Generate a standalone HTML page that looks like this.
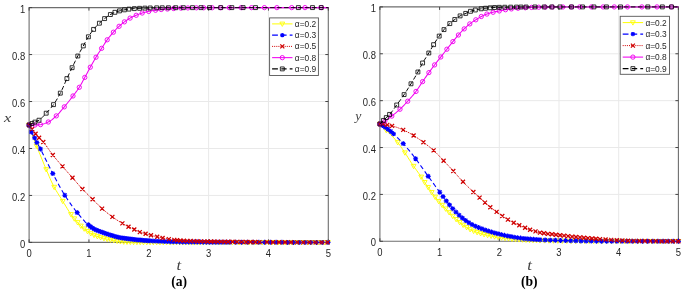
<!DOCTYPE html>
<html><head><meta charset="utf-8"><style>
html,body{margin:0;padding:0;background:#fff;}
body{width:685px;height:290px;overflow:hidden;}
svg{display:block;}
</style></head><body>
<div style="will-change:transform;width:685px;height:290px"><svg width="685" height="290" viewBox="0 0 685 290">
<rect width="685" height="290" fill="#fff"/>
<path d="M88.94 7.60V242.40M148.78 7.60V242.40M208.62 7.60V242.40M268.46 7.60V242.40M29.10 195.44H328.30M29.10 148.48H328.30M29.10 101.52H328.30M29.10 54.56H328.30" stroke="#e9e9e9" stroke-width="1" fill="none"/>
<path d="M29.10 7.60H328.30V242.40H29.10Z" stroke="#6e6e6e" stroke-width="1.1" fill="none"/>
<path d="M29.10 242.40v-3M29.10 7.60v3M88.94 242.40v-3M88.94 7.60v3M148.78 242.40v-3M148.78 7.60v3M208.62 242.40v-3M208.62 7.60v3M268.46 242.40v-3M268.46 7.60v3M328.30 242.40v-3M328.30 7.60v3M29.10 242.40h3M328.30 242.40h-3M29.10 195.44h3M328.30 195.44h-3M29.10 148.48h3M328.30 148.48h-3M29.10 101.52h3M328.30 101.52h-3M29.10 54.56h3M328.30 54.56h-3M29.10 7.60h3M328.30 7.60h-3" stroke="#444" stroke-width="1" fill="none"/>
<path d="M29.10 125.00 L30.10 128.35 L31.10 131.50 L32.10 134.38 L33.10 137.14 L34.10 139.81 L35.10 142.39 L36.10 144.91 L37.10 147.38 L38.10 149.81 L39.10 152.23 L40.10 154.64 L41.10 157.06 L42.10 159.51 L43.10 161.98 L44.10 164.43 L45.10 166.84 L46.10 169.20 L47.10 171.57 L48.10 173.93 L49.10 176.28 L50.10 178.59 L51.10 180.83 L52.10 182.98 L53.10 185.03 L54.10 186.94 L55.10 188.75 L56.10 190.48 L57.10 192.15 L58.10 193.76 L59.10 195.35 L60.10 196.91 L61.10 198.48 L62.10 200.07 L63.10 201.69 L64.10 203.34 L65.10 205.01 L66.10 206.68 L67.10 208.34 L68.10 209.97 L69.10 211.55 L70.10 213.08 L71.10 214.54 L72.10 215.92 L73.10 217.23 L74.10 218.46 L75.10 219.62 L76.10 220.74 L77.10 221.87 L78.10 222.99 L79.10 224.09 L80.10 225.14 L81.10 226.16 L82.10 227.10 L83.10 227.95 L84.10 228.73 L85.10 229.49 L86.10 230.26 L87.10 231.04 L88.10 231.79 L89.10 232.46 L90.10 233.08 L91.10 233.66 L92.10 234.20 L93.10 234.70 L94.10 235.17 L95.10 235.60 L96.10 236.01 L97.10 236.37 L98.10 236.69 L99.10 237.01 L100.10 237.31 L101.10 237.60 L102.10 237.88 L103.10 238.15 L104.10 238.41 L105.10 238.65 L106.10 238.89 L107.10 239.11 L108.10 239.32 L109.10 239.53 L110.10 239.72 L111.10 239.91 L112.10 240.10 L113.10 240.29 L114.10 240.48 L115.10 240.67 L116.10 240.85 L117.10 241.02 L118.10 241.19 L119.10 241.34 L120.10 241.48 L121.10 241.60 L122.10 241.71 L123.10 241.79 L124.10 241.86 L125.10 241.90 L126.10 241.94 L127.10 241.97 L128.10 242.00 L129.10 242.03 L130.10 242.06 L131.10 242.09 L132.10 242.11 L133.10 242.14 L134.10 242.16 L135.10 242.18 L136.10 242.20 L137.10 242.22 L138.10 242.24 L139.10 242.26 L140.10 242.27 L141.10 242.29 L142.10 242.30 L143.10 242.31 L144.10 242.32 L145.10 242.33 L146.10 242.34 L147.10 242.34 L148.10 242.35 L149.10 242.35 L150.10 242.35 L151.10 242.35 L152.10 242.35 L153.10 242.35 L154.10 242.35 L155.10 242.35 L156.10 242.35 L157.10 242.36 L158.10 242.36 L159.10 242.36 L160.10 242.36 L161.10 242.36 L162.10 242.36 L163.10 242.36 L164.10 242.36 L165.10 242.36 L166.10 242.36 L167.10 242.36 L168.10 242.36 L169.10 242.36 L170.10 242.36 L171.10 242.36 L172.10 242.36 L173.10 242.37 L174.10 242.37 L175.10 242.37 L176.10 242.37 L177.10 242.37 L178.10 242.37 L179.10 242.37 L180.10 242.37 L181.10 242.37 L182.10 242.37 L183.10 242.37 L184.10 242.37 L185.10 242.37 L186.10 242.37 L187.10 242.37 L188.10 242.37 L189.10 242.37 L190.10 242.37 L191.10 242.37 L192.10 242.37 L193.10 242.38 L194.10 242.38 L195.10 242.38 L196.10 242.38 L197.10 242.38 L198.10 242.38 L199.10 242.38 L200.10 242.38 L201.10 242.38 L202.10 242.38 L203.10 242.38 L204.10 242.38 L205.10 242.38 L206.10 242.38 L207.10 242.38 L208.10 242.38 L209.10 242.38 L210.10 242.38 L211.10 242.38 L212.10 242.38 L213.10 242.38 L214.10 242.38 L215.10 242.38 L216.10 242.38 L217.10 242.38 L218.10 242.39 L219.10 242.39 L220.10 242.39 L221.10 242.39 L222.10 242.39 L223.10 242.39 L224.10 242.39 L225.10 242.39 L226.10 242.39 L227.10 242.39 L228.10 242.39 L229.10 242.39 L230.10 242.39 L231.10 242.39 L232.10 242.39 L233.10 242.39 L234.10 242.39 L235.10 242.39 L236.10 242.39 L237.10 242.39 L238.10 242.39 L239.10 242.39 L240.10 242.39 L241.10 242.39 L242.10 242.39 L243.10 242.39 L244.10 242.39 L245.10 242.39 L246.10 242.39 L247.10 242.39 L248.10 242.39 L249.10 242.39 L250.10 242.39 L251.10 242.39 L252.10 242.39 L253.10 242.39 L254.10 242.39 L255.10 242.39 L256.10 242.39 L257.10 242.39 L258.10 242.40 L259.10 242.40 L260.10 242.40 L261.10 242.40 L262.10 242.40 L263.10 242.40 L264.10 242.40 L265.10 242.40 L266.10 242.40 L267.10 242.40 L268.10 242.40 L269.10 242.40 L270.10 242.40 L271.10 242.40 L272.10 242.40 L273.10 242.40 L274.10 242.40 L275.10 242.40 L276.10 242.40 L277.10 242.40 L278.10 242.40 L279.10 242.40 L280.10 242.40 L281.10 242.40 L282.10 242.40 L283.10 242.40 L284.10 242.40 L285.10 242.40 L286.10 242.40 L287.10 242.40 L288.10 242.40 L289.10 242.40 L290.10 242.40 L291.10 242.40 L292.10 242.40 L293.10 242.40 L294.10 242.40 L295.10 242.40 L296.10 242.40 L297.10 242.40 L298.10 242.40 L299.10 242.40 L300.10 242.40 L301.10 242.40 L302.10 242.40 L303.10 242.40 L304.10 242.40 L305.10 242.40 L306.10 242.40 L307.10 242.40 L308.10 242.40 L309.10 242.40 L310.10 242.40 L311.10 242.40 L312.10 242.40 L313.10 242.40 L314.10 242.40 L315.10 242.40 L316.10 242.40 L317.10 242.40 L318.10 242.40 L319.10 242.40 L320.10 242.40 L321.10 242.40 L322.10 242.40 L323.10 242.40 L324.10 242.40 L325.10 242.40 L326.10 242.40 L327.10 242.40 L328.10 242.40 L328.30 242.40" stroke="#ffff00" stroke-width="1.0" fill="none"/>
<path d="M26.70 123.20L31.50 123.20L29.10 127.52ZM34.10 144.10L38.90 144.10L36.50 148.42ZM43.80 167.64L48.60 167.64L46.20 171.96ZM51.80 185.33L56.60 185.33L54.20 189.65ZM60.40 199.40L65.20 199.40L62.80 203.72ZM68.60 212.60L73.40 212.60L71.00 216.92ZM71.89 216.89L76.69 216.89L74.29 221.21ZM75.19 220.62L79.99 220.62L77.59 224.94ZM78.48 224.14L83.28 224.14L80.88 228.46ZM81.78 226.99L86.58 226.99L84.18 231.31ZM85.07 229.53L89.87 229.53L87.47 233.85ZM88.37 231.68L93.17 231.68L90.77 236.00ZM91.66 233.35L96.46 233.35L94.06 237.67ZM94.96 234.65L99.76 234.65L97.36 238.97ZM98.25 235.67L103.05 235.67L100.65 239.99ZM101.55 236.57L106.35 236.57L103.95 240.89ZM104.84 237.34L109.64 237.34L107.24 241.66ZM108.14 238.00L112.94 238.00L110.54 242.32ZM111.43 238.63L116.23 238.63L113.83 242.95ZM114.73 239.23L119.53 239.23L117.13 243.55ZM118.02 239.72L122.82 239.72L120.42 244.04ZM121.32 240.04L126.12 240.04L123.72 244.36ZM124.61 240.17L129.41 240.17L127.01 244.49ZM127.91 240.26L132.71 240.26L130.31 244.58ZM131.20 240.35L136.00 240.35L133.60 244.67ZM134.50 240.42L139.30 240.42L136.90 244.74ZM137.79 240.47L142.59 240.47L140.19 244.79ZM141.09 240.51L145.89 240.51L143.49 244.83ZM144.38 240.54L149.18 240.54L146.78 244.86ZM147.68 240.55L152.48 240.55L150.08 244.87ZM150.97 240.55L155.77 240.55L153.37 244.87ZM154.27 240.55L159.07 240.55L156.67 244.87ZM157.56 240.56L162.36 240.56L159.96 244.88ZM160.86 240.56L165.66 240.56L163.26 244.88ZM164.15 240.56L168.95 240.56L166.55 244.88ZM167.45 240.56L172.25 240.56L169.85 244.88ZM170.74 240.57L175.54 240.57L173.14 244.89ZM174.04 240.57L178.84 240.57L176.44 244.89ZM177.33 240.57L182.13 240.57L179.73 244.89ZM180.63 240.57L185.43 240.57L183.03 244.89ZM183.92 240.57L188.72 240.57L186.32 244.89ZM187.22 240.57L192.02 240.57L189.62 244.89ZM190.51 240.58L195.31 240.58L192.91 244.90ZM193.81 240.58L198.61 240.58L196.21 244.90ZM197.10 240.58L201.90 240.58L199.50 244.90ZM200.39 240.58L205.19 240.58L202.79 244.90ZM203.69 240.58L208.49 240.58L206.09 244.90ZM206.98 240.58L211.78 240.58L209.38 244.90ZM210.28 240.58L215.08 240.58L212.68 244.90ZM213.57 240.58L218.37 240.58L215.97 244.90ZM216.87 240.59L221.67 240.59L219.27 244.91ZM220.16 240.59L224.96 240.59L222.56 244.91ZM223.46 240.59L228.26 240.59L225.86 244.91ZM226.75 240.59L231.55 240.59L229.15 244.91ZM230.05 240.59L234.85 240.59L232.45 244.91ZM233.34 240.59L238.14 240.59L235.74 244.91ZM236.64 240.59L241.44 240.59L239.04 244.91ZM239.93 240.59L244.73 240.59L242.33 244.91ZM243.23 240.59L248.03 240.59L245.63 244.91ZM246.52 240.59L251.32 240.59L248.92 244.91ZM249.82 240.59L254.62 240.59L252.22 244.91ZM253.11 240.59L257.91 240.59L255.51 244.91ZM256.41 240.60L261.21 240.60L258.81 244.92ZM259.70 240.60L264.50 240.60L262.10 244.92ZM263.00 240.60L267.80 240.60L265.40 244.92ZM266.29 240.60L271.09 240.60L268.69 244.92ZM269.59 240.60L274.39 240.60L271.99 244.92ZM272.88 240.60L277.68 240.60L275.28 244.92ZM276.18 240.60L280.98 240.60L278.58 244.92ZM279.47 240.60L284.27 240.60L281.87 244.92ZM282.77 240.60L287.57 240.60L285.17 244.92ZM286.06 240.60L290.86 240.60L288.46 244.92ZM289.36 240.60L294.16 240.60L291.76 244.92ZM292.65 240.60L297.45 240.60L295.05 244.92ZM295.95 240.60L300.75 240.60L298.35 244.92ZM299.24 240.60L304.04 240.60L301.64 244.92ZM302.54 240.60L307.34 240.60L304.94 244.92ZM305.83 240.60L310.63 240.60L308.23 244.92ZM309.13 240.60L313.93 240.60L311.53 244.92ZM312.42 240.60L317.22 240.60L314.82 244.92ZM315.72 240.60L320.52 240.60L318.12 244.92ZM319.01 240.60L323.81 240.60L321.41 244.92ZM322.31 240.60L327.11 240.60L324.71 244.92ZM325.60 240.60L330.40 240.60L328.00 244.92Z" stroke="#ffff00" stroke-width="0.9" fill="none"/>
<path d="M29.10 125.00 L30.10 128.38 L31.10 131.27 L32.10 133.49 L33.10 135.27 L34.10 136.97 L35.10 138.90 L36.10 140.99 L37.10 142.98 L38.10 144.78 L39.10 146.50 L40.10 148.26 L41.10 150.15 L42.10 152.15 L43.10 154.20 L44.10 156.26 L45.10 158.30 L46.10 160.31 L47.10 162.33 L48.10 164.34 L49.10 166.35 L50.10 168.35 L51.10 170.32 L52.10 172.26 L53.10 174.17 L54.10 176.07 L55.10 177.96 L56.10 179.85 L57.10 181.73 L58.10 183.59 L59.10 185.42 L60.10 187.23 L61.10 189.01 L62.10 190.74 L63.10 192.44 L64.10 194.08 L65.10 195.67 L66.10 197.23 L67.10 198.75 L68.10 200.25 L69.10 201.72 L70.10 203.17 L71.10 204.58 L72.10 205.97 L73.10 207.32 L74.10 208.65 L75.10 209.96 L76.10 211.23 L77.10 212.48 L78.10 213.71 L79.10 214.93 L80.10 216.14 L81.10 217.33 L82.10 218.50 L83.10 219.63 L84.10 220.73 L85.10 221.79 L86.10 222.79 L87.10 223.74 L88.10 224.63 L89.10 225.46 L90.10 226.27 L91.10 227.03 L92.10 227.75 L93.10 228.41 L94.10 229.02 L95.10 229.55 L96.10 230.01 L97.10 230.43 L98.10 230.81 L99.10 231.17 L100.10 231.54 L101.10 231.91 L102.10 232.27 L103.10 232.63 L104.10 232.98 L105.10 233.32 L106.10 233.66 L107.10 233.99 L108.10 234.31 L109.10 234.63 L110.10 234.93 L111.10 235.23 L112.10 235.54 L113.10 235.84 L114.10 236.14 L115.10 236.43 L116.10 236.70 L117.10 236.96 L118.10 237.20 L119.10 237.42 L120.10 237.62 L121.10 237.80 L122.10 237.97 L123.10 238.13 L124.10 238.28 L125.10 238.43 L126.10 238.57 L127.10 238.70 L128.10 238.83 L129.10 238.96 L130.10 239.07 L131.10 239.19 L132.10 239.30 L133.10 239.41 L134.10 239.51 L135.10 239.61 L136.10 239.71 L137.10 239.81 L138.10 239.90 L139.10 239.99 L140.10 240.08 L141.10 240.17 L142.10 240.26 L143.10 240.34 L144.10 240.42 L145.10 240.49 L146.10 240.56 L147.10 240.63 L148.10 240.69 L149.10 240.75 L150.10 240.81 L151.10 240.86 L152.10 240.91 L153.10 240.96 L154.10 241.01 L155.10 241.06 L156.10 241.11 L157.10 241.16 L158.10 241.20 L159.10 241.25 L160.10 241.30 L161.10 241.34 L162.10 241.38 L163.10 241.42 L164.10 241.47 L165.10 241.50 L166.10 241.54 L167.10 241.58 L168.10 241.61 L169.10 241.65 L170.10 241.68 L171.10 241.71 L172.10 241.74 L173.10 241.77 L174.10 241.79 L175.10 241.81 L176.10 241.84 L177.10 241.86 L178.10 241.87 L179.10 241.89 L180.10 241.90 L181.10 241.91 L182.10 241.93 L183.10 241.94 L184.10 241.95 L185.10 241.96 L186.10 241.97 L187.10 241.98 L188.10 241.99 L189.10 242.00 L190.10 242.01 L191.10 242.02 L192.10 242.03 L193.10 242.04 L194.10 242.05 L195.10 242.06 L196.10 242.07 L197.10 242.08 L198.10 242.09 L199.10 242.10 L200.10 242.10 L201.10 242.11 L202.10 242.12 L203.10 242.13 L204.10 242.14 L205.10 242.14 L206.10 242.15 L207.10 242.16 L208.10 242.16 L209.10 242.17 L210.10 242.18 L211.10 242.18 L212.10 242.19 L213.10 242.20 L214.10 242.20 L215.10 242.21 L216.10 242.21 L217.10 242.22 L218.10 242.22 L219.10 242.23 L220.10 242.23 L221.10 242.24 L222.10 242.24 L223.10 242.25 L224.10 242.25 L225.10 242.26 L226.10 242.26 L227.10 242.26 L228.10 242.27 L229.10 242.27 L230.10 242.27 L231.10 242.28 L232.10 242.28 L233.10 242.28 L234.10 242.29 L235.10 242.29 L236.10 242.29 L237.10 242.29 L238.10 242.30 L239.10 242.30 L240.10 242.30 L241.10 242.30 L242.10 242.30 L243.10 242.31 L244.10 242.31 L245.10 242.31 L246.10 242.31 L247.10 242.31 L248.10 242.32 L249.10 242.32 L250.10 242.32 L251.10 242.32 L252.10 242.32 L253.10 242.33 L254.10 242.33 L255.10 242.33 L256.10 242.33 L257.10 242.33 L258.10 242.33 L259.10 242.34 L260.10 242.34 L261.10 242.34 L262.10 242.34 L263.10 242.34 L264.10 242.34 L265.10 242.35 L266.10 242.35 L267.10 242.35 L268.10 242.35 L269.10 242.35 L270.10 242.35 L271.10 242.35 L272.10 242.36 L273.10 242.36 L274.10 242.36 L275.10 242.36 L276.10 242.36 L277.10 242.36 L278.10 242.36 L279.10 242.37 L280.10 242.37 L281.10 242.37 L282.10 242.37 L283.10 242.37 L284.10 242.37 L285.10 242.37 L286.10 242.37 L287.10 242.38 L288.10 242.38 L289.10 242.38 L290.10 242.38 L291.10 242.38 L292.10 242.38 L293.10 242.38 L294.10 242.38 L295.10 242.38 L296.10 242.38 L297.10 242.39 L298.10 242.39 L299.10 242.39 L300.10 242.39 L301.10 242.39 L302.10 242.39 L303.10 242.39 L304.10 242.39 L305.10 242.39 L306.10 242.39 L307.10 242.39 L308.10 242.39 L309.10 242.39 L310.10 242.40 L311.10 242.40 L312.10 242.40 L313.10 242.40 L314.10 242.40 L315.10 242.40 L316.10 242.40 L317.10 242.40 L318.10 242.40 L319.10 242.40 L320.10 242.40 L321.10 242.40 L322.10 242.40 L323.10 242.40 L324.10 242.40 L325.10 242.40 L326.10 242.40 L327.10 242.40 L328.10 242.40 L328.30 242.40" stroke="#0000ff" stroke-width="1.1" stroke-dasharray="4.5 2.8" fill="none"/>
<path d="M26.60 125.00L31.60 125.00M29.10 122.50L29.10 127.50M27.30 123.20L30.90 126.80M27.30 126.80L30.90 123.20M28.90 132.00L33.90 132.00M31.40 129.50L31.40 134.50M29.60 130.20L33.20 133.80M29.60 133.80L33.20 130.20M32.10 137.90L37.10 137.90M34.60 135.40L34.60 140.40M32.80 136.10L36.40 139.70M32.80 139.70L36.40 136.10M34.40 142.60L39.40 142.60M36.90 140.10L36.90 145.10M35.10 140.80L38.70 144.40M35.10 144.40L38.70 140.80M38.00 149.00L43.00 149.00M40.50 146.50L40.50 151.50M38.70 147.20L42.30 150.80M38.70 150.80L42.30 147.20M50.30 173.60L55.30 173.60M52.80 171.10L52.80 176.10M51.00 171.80L54.60 175.40M51.00 175.40L54.60 171.80M62.30 195.20L67.30 195.20M64.80 192.70L64.80 197.70M63.00 193.40L66.60 197.00M63.00 197.00L66.60 193.40M74.70 212.60L79.70 212.60M77.20 210.10L77.20 215.10M75.40 210.80L79.00 214.40M75.40 214.40L79.00 210.80M85.80 224.80L90.80 224.80M88.30 222.30L88.30 227.30M86.50 223.00L90.10 226.60M86.50 226.60L90.10 223.00M87.79 226.42L92.79 226.42M90.29 223.92L90.29 228.92M88.49 224.62L92.09 228.22M88.49 228.22L92.09 224.62M89.78 227.87L94.78 227.87M92.28 225.37L92.28 230.37M90.48 226.07L94.08 229.67M90.48 229.67L94.08 226.07M91.77 229.11L96.77 229.11M94.27 226.61L94.27 231.61M92.47 227.31L96.07 230.91M92.47 230.91L96.07 227.31M93.76 230.08L98.76 230.08M96.26 227.58L96.26 232.58M94.46 228.28L98.06 231.88M94.46 231.88L98.06 228.28M95.75 230.86L100.75 230.86M98.25 228.36L98.25 233.36M96.45 229.06L100.05 232.66M96.45 232.66L100.05 229.06M97.74 231.59L102.74 231.59M100.24 229.09L100.24 234.09M98.44 229.79L102.04 233.39M98.44 233.39L102.04 229.79M99.73 232.32L104.73 232.32M102.23 229.82L102.23 234.82M100.43 230.52L104.03 234.12M100.43 234.12L104.03 230.52M101.72 233.02L106.72 233.02M104.22 230.52L104.22 235.52M102.42 231.22L106.02 234.82M102.42 234.82L106.02 231.22M103.71 233.70L108.71 233.70M106.21 231.20L106.21 236.20M104.41 231.90L108.01 235.50M104.41 235.50L108.01 231.90M105.70 234.34L110.70 234.34M108.20 231.84L108.20 236.84M106.40 232.54L110.00 236.14M106.40 236.14L110.00 232.54M107.69 234.96L112.69 234.96M110.19 232.46L110.19 237.46M108.39 233.16L111.99 236.76M108.39 236.76L111.99 233.16M109.68 235.56L114.68 235.56M112.18 233.06L112.18 238.06M110.38 233.76L113.98 237.36M110.38 237.36L113.98 233.76M111.67 236.16L116.67 236.16M114.17 233.66L114.17 238.66M112.37 234.36L115.97 237.96M112.37 237.96L115.97 234.36M113.66 236.72L118.66 236.72M116.16 234.22L116.16 239.22M114.36 234.92L117.96 238.52M114.36 238.52L117.96 234.92M115.65 237.22L120.65 237.22M118.15 234.72L118.15 239.72M116.35 235.42L119.95 239.02M116.35 239.02L119.95 235.42M117.65 237.63L122.65 237.63M120.15 235.13L120.15 240.13M118.35 235.83L121.95 239.43M118.35 239.43L121.95 235.83M119.64 237.97L124.64 237.97M122.14 235.47L122.14 240.47M120.34 236.17L123.94 239.77M120.34 239.77L123.94 236.17M121.63 238.28L126.63 238.28M124.13 235.78L124.13 240.78M122.33 236.48L125.93 240.08M122.33 240.08L125.93 236.48M123.62 238.57L128.62 238.57M126.12 236.07L126.12 241.07M124.32 236.77L127.92 240.37M124.32 240.37L127.92 236.77M125.61 238.83L130.61 238.83M128.11 236.33L128.11 241.33M126.31 237.03L129.91 240.63M126.31 240.63L129.91 237.03M127.60 239.07L132.60 239.07M130.10 236.57L130.10 241.57M128.30 237.27L131.90 240.87M128.30 240.87L131.90 237.27M129.59 239.30L134.59 239.30M132.09 236.80L132.09 241.80M130.29 237.50L133.89 241.10M130.29 241.10L133.89 237.50M131.58 239.51L136.58 239.51M134.08 237.01L134.08 242.01M132.28 237.71L135.88 241.31M132.28 241.31L135.88 237.71M133.57 239.71L138.57 239.71M136.07 237.21L136.07 242.21M134.27 237.91L137.87 241.51M134.27 241.51L137.87 237.91M135.56 239.90L140.56 239.90M138.06 237.40L138.06 242.40M136.26 238.10L139.86 241.70M136.26 241.70L139.86 238.10M137.55 240.08L142.55 240.08M140.05 237.58L140.05 242.58M138.25 238.28L141.85 241.88M138.25 241.88L141.85 238.28M139.54 240.25L144.54 240.25M142.04 237.75L142.04 242.75M140.24 238.45L143.84 242.05M140.24 242.05L143.84 238.45M141.53 240.41L146.53 240.41M144.03 237.91L144.03 242.91M142.23 238.61L145.83 242.21M142.23 242.21L145.83 238.61M143.52 240.56L148.52 240.56M146.02 238.06L146.02 243.06M144.22 238.76L147.82 242.36M144.22 242.36L147.82 238.76M145.51 240.69L150.51 240.69M148.01 238.19L148.01 243.19M146.21 238.89L149.81 242.49M146.21 242.49L149.81 238.89M147.50 240.80L152.50 240.80M150.00 238.30L150.00 243.30M148.20 239.00L151.80 242.60M148.20 242.60L151.80 239.00M150.46 240.95L155.46 240.95M152.96 238.45L152.96 243.45M151.16 239.15L154.76 242.75M151.16 242.75L154.76 239.15M153.43 241.10L158.43 241.10M155.93 238.60L155.93 243.60M154.13 239.30L157.73 242.90M154.13 242.90L157.73 239.30M156.39 241.24L161.39 241.24M158.89 238.74L158.89 243.74M157.09 239.44L160.69 243.04M157.09 243.04L160.69 239.44M159.35 241.37L164.35 241.37M161.85 238.87L161.85 243.87M160.05 239.57L163.65 243.17M160.05 243.17L163.65 239.57M162.31 241.49L167.31 241.49M164.81 238.99L164.81 243.99M163.01 239.69L166.61 243.29M163.01 243.29L166.61 239.69M165.28 241.60L170.28 241.60M167.78 239.10L167.78 244.10M165.98 239.80L169.58 243.40M165.98 243.40L169.58 239.80M168.24 241.70L173.24 241.70M170.74 239.20L170.74 244.20M168.94 239.90L172.54 243.50M168.94 243.50L172.54 239.90M171.20 241.78L176.20 241.78M173.70 239.28L173.70 244.28M171.90 239.98L175.50 243.58M171.90 243.58L175.50 239.98M174.17 241.85L179.17 241.85M176.67 239.35L176.67 244.35M174.87 240.05L178.47 243.65M174.87 243.65L178.47 240.05M177.13 241.90L182.13 241.90M179.63 239.40L179.63 244.40M177.83 240.10L181.43 243.70M177.83 243.70L181.43 240.10M180.09 241.93L185.09 241.93M182.59 239.43L182.59 244.43M180.79 240.13L184.39 243.73M180.79 243.73L184.39 240.13M183.06 241.96L188.06 241.96M185.56 239.46L185.56 244.46M183.76 240.16L187.36 243.76M183.76 243.76L187.36 240.16M186.02 242.00L191.02 242.00M188.52 239.50L188.52 244.50M186.72 240.20L190.32 243.80M186.72 243.80L190.32 240.20M188.98 242.03L193.98 242.03M191.48 239.53L191.48 244.53M189.68 240.23L193.28 243.83M189.68 243.83L193.28 240.23M191.94 242.05L196.94 242.05M194.44 239.55L194.44 244.55M192.64 240.25L196.24 243.85M192.64 243.85L196.24 240.25M194.91 242.08L199.91 242.08M197.41 239.58L197.41 244.58M195.61 240.28L199.21 243.88M195.61 243.88L199.21 240.28M197.87 242.11L202.87 242.11M200.37 239.61L200.37 244.61M198.57 240.31L202.17 243.91M198.57 243.91L202.17 240.31M200.83 242.13L205.83 242.13M203.33 239.63L203.33 244.63M201.53 240.33L205.13 243.93M201.53 243.93L205.13 240.33M203.80 242.15L208.80 242.15M206.30 239.65L206.30 244.65M204.50 240.35L208.10 243.95M204.50 243.95L208.10 240.35M206.76 242.17L211.76 242.17M209.26 239.67L209.26 244.67M207.46 240.37L211.06 243.97M207.46 243.97L211.06 240.37M209.72 242.19L214.72 242.19M212.22 239.69L212.22 244.69M210.42 240.39L214.02 243.99M210.42 243.99L214.02 240.39M212.69 242.21L217.69 242.21M215.19 239.71L215.19 244.71M213.39 240.41L216.99 244.01M213.39 244.01L216.99 240.41M215.65 242.22L220.65 242.22M218.15 239.72L218.15 244.72M216.35 240.42L219.95 244.02M216.35 244.02L219.95 240.42M218.61 242.24L223.61 242.24M221.11 239.74L221.11 244.74M219.31 240.44L222.91 244.04M219.31 244.04L222.91 240.44M221.57 242.25L226.57 242.25M224.07 239.75L224.07 244.75M222.27 240.45L225.87 244.05M222.27 244.05L225.87 240.45M224.54 242.26L229.54 242.26M227.04 239.76L227.04 244.76M225.24 240.46L228.84 244.06M225.24 244.06L228.84 240.46M227.50 242.27L232.50 242.27M230.00 239.77L230.00 244.77M228.20 240.47L231.80 244.07M228.20 244.07L231.80 240.47M233.26 242.29L238.26 242.29M235.76 239.79L235.76 244.79M233.96 240.49L237.56 244.09M233.96 244.09L237.56 240.49M239.03 242.30L244.03 242.30M241.53 239.80L241.53 244.80M239.73 240.50L243.33 244.10M239.73 244.10L243.33 240.50M244.79 242.31L249.79 242.31M247.29 239.81L247.29 244.81M245.49 240.51L249.09 244.11M245.49 244.11L249.09 240.51M250.56 242.33L255.56 242.33M253.06 239.83L253.06 244.83M251.26 240.53L254.86 244.13M251.26 244.13L254.86 240.53M256.32 242.34L261.32 242.34M258.82 239.84L258.82 244.84M257.02 240.54L260.62 244.14M257.02 244.14L260.62 240.54M262.09 242.34L267.09 242.34M264.59 239.84L264.59 244.84M262.79 240.54L266.39 244.14M262.79 244.14L266.39 240.54M267.85 242.35L272.85 242.35M270.35 239.85L270.35 244.85M268.55 240.55L272.15 244.15M268.55 244.15L272.15 240.55M273.62 242.36L278.62 242.36M276.12 239.86L276.12 244.86M274.32 240.56L277.92 244.16M274.32 244.16L277.92 240.56M279.38 242.37L284.38 242.37M281.88 239.87L281.88 244.87M280.08 240.57L283.68 244.17M280.08 244.17L283.68 240.57M285.15 242.38L290.15 242.38M287.65 239.88L287.65 244.88M285.85 240.58L289.45 244.18M285.85 244.18L289.45 240.58M290.91 242.38L295.91 242.38M293.41 239.88L293.41 244.88M291.61 240.58L295.21 244.18M291.61 244.18L295.21 240.58M296.68 242.39L301.68 242.39M299.18 239.89L299.18 244.89M297.38 240.59L300.98 244.19M297.38 244.19L300.98 240.59M302.44 242.39L307.44 242.39M304.94 239.89L304.94 244.89M303.14 240.59L306.74 244.19M303.14 244.19L306.74 240.59M308.21 242.40L313.21 242.40M310.71 239.90L310.71 244.90M308.91 240.60L312.51 244.20M308.91 244.20L312.51 240.60M313.97 242.40L318.97 242.40M316.47 239.90L316.47 244.90M314.67 240.60L318.27 244.20M314.67 244.20L318.27 240.60M319.74 242.40L324.74 242.40M322.24 239.90L322.24 244.90M320.44 240.60L324.04 244.20M320.44 244.20L324.04 240.60M325.50 242.40L330.50 242.40M328.00 239.90L328.00 244.90M326.20 240.60L329.80 244.20M326.20 244.20L329.80 240.60" stroke="#0000ff" stroke-width="1.15" fill="none"/>
<path d="M29.10 125.00 L30.10 126.25 L31.10 127.54 L32.10 128.87 L33.10 130.27 L34.10 131.74 L35.10 133.15 L36.10 134.41 L37.10 135.55 L38.10 136.64 L39.10 137.70 L40.10 138.73 L41.10 139.71 L42.10 140.71 L43.10 141.77 L44.10 142.95 L45.10 144.23 L46.10 145.59 L47.10 147.00 L48.10 148.44 L49.10 149.89 L50.10 151.33 L51.10 152.74 L52.10 154.09 L53.10 155.38 L54.10 156.62 L55.10 157.83 L56.10 159.02 L57.10 160.19 L58.10 161.35 L59.10 162.50 L60.10 163.64 L61.10 164.79 L62.10 165.94 L63.10 167.09 L64.10 168.24 L65.10 169.39 L66.10 170.53 L67.10 171.67 L68.10 172.81 L69.10 173.94 L70.10 175.08 L71.10 176.21 L72.10 177.35 L73.10 178.48 L74.10 179.63 L75.10 180.78 L76.10 181.93 L77.10 183.08 L78.10 184.23 L79.10 185.36 L80.10 186.49 L81.10 187.59 L82.10 188.68 L83.10 189.74 L84.10 190.79 L85.10 191.82 L86.10 192.84 L87.10 193.84 L88.10 194.84 L89.10 195.84 L90.10 196.82 L91.10 197.81 L92.10 198.80 L93.10 199.80 L94.10 200.80 L95.10 201.81 L96.10 202.82 L97.10 203.83 L98.10 204.82 L99.10 205.80 L100.10 206.76 L101.10 207.70 L102.10 208.60 L103.10 209.48 L104.10 210.34 L105.10 211.19 L106.10 212.02 L107.10 212.84 L108.10 213.64 L109.10 214.43 L110.10 215.20 L111.10 215.95 L112.10 216.68 L113.10 217.40 L114.10 218.10 L115.10 218.79 L116.10 219.46 L117.10 220.12 L118.10 220.77 L119.10 221.40 L120.10 222.02 L121.10 222.63 L122.10 223.22 L123.10 223.81 L124.10 224.37 L125.10 224.92 L126.10 225.45 L127.10 225.98 L128.10 226.50 L129.10 227.00 L130.10 227.50 L131.10 227.98 L132.10 228.46 L133.10 228.93 L134.10 229.40 L135.10 229.89 L136.10 230.40 L137.10 230.90 L138.10 231.39 L139.10 231.83 L140.10 232.21 L141.10 232.54 L142.10 232.84 L143.10 233.12 L144.10 233.39 L145.10 233.66 L146.10 233.94 L147.10 234.23 L148.10 234.51 L149.10 234.79 L150.10 235.06 L151.10 235.33 L152.10 235.58 L153.10 235.83 L154.10 236.07 L155.10 236.31 L156.10 236.54 L157.10 236.78 L158.10 237.01 L159.10 237.24 L160.10 237.47 L161.10 237.69 L162.10 237.90 L163.10 238.10 L164.10 238.29 L165.10 238.47 L166.10 238.65 L167.10 238.82 L168.10 238.99 L169.10 239.15 L170.10 239.31 L171.10 239.46 L172.10 239.61 L173.10 239.75 L174.10 239.88 L175.10 240.00 L176.10 240.12 L177.10 240.24 L178.10 240.34 L179.10 240.43 L180.10 240.51 L181.10 240.57 L182.10 240.63 L183.10 240.68 L184.10 240.74 L185.10 240.79 L186.10 240.83 L187.10 240.88 L188.10 240.92 L189.10 240.96 L190.10 241.00 L191.10 241.04 L192.10 241.08 L193.10 241.11 L194.10 241.14 L195.10 241.17 L196.10 241.20 L197.10 241.23 L198.10 241.25 L199.10 241.28 L200.10 241.30 L201.10 241.32 L202.10 241.35 L203.10 241.37 L204.10 241.39 L205.10 241.41 L206.10 241.43 L207.10 241.44 L208.10 241.46 L209.10 241.48 L210.10 241.49 L211.10 241.51 L212.10 241.52 L213.10 241.54 L214.10 241.55 L215.10 241.57 L216.10 241.58 L217.10 241.60 L218.10 241.61 L219.10 241.62 L220.10 241.64 L221.10 241.65 L222.10 241.66 L223.10 241.67 L224.10 241.69 L225.10 241.70 L226.10 241.71 L227.10 241.73 L228.10 241.74 L229.10 241.76 L230.10 241.77 L231.10 241.78 L232.10 241.80 L233.10 241.81 L234.10 241.82 L235.10 241.84 L236.10 241.85 L237.10 241.86 L238.10 241.87 L239.10 241.89 L240.10 241.90 L241.10 241.91 L242.10 241.92 L243.10 241.94 L244.10 241.95 L245.10 241.96 L246.10 241.97 L247.10 241.98 L248.10 241.99 L249.10 242.00 L250.10 242.02 L251.10 242.03 L252.10 242.04 L253.10 242.04 L254.10 242.05 L255.10 242.06 L256.10 242.07 L257.10 242.08 L258.10 242.09 L259.10 242.09 L260.10 242.10 L261.10 242.11 L262.10 242.11 L263.10 242.12 L264.10 242.13 L265.10 242.13 L266.10 242.14 L267.10 242.15 L268.10 242.15 L269.10 242.16 L270.10 242.17 L271.10 242.17 L272.10 242.18 L273.10 242.19 L274.10 242.19 L275.10 242.20 L276.10 242.20 L277.10 242.21 L278.10 242.22 L279.10 242.22 L280.10 242.23 L281.10 242.24 L282.10 242.24 L283.10 242.25 L284.10 242.25 L285.10 242.26 L286.10 242.26 L287.10 242.27 L288.10 242.28 L289.10 242.28 L290.10 242.29 L291.10 242.29 L292.10 242.30 L293.10 242.30 L294.10 242.31 L295.10 242.31 L296.10 242.32 L297.10 242.32 L298.10 242.33 L299.10 242.33 L300.10 242.33 L301.10 242.34 L302.10 242.34 L303.10 242.35 L304.10 242.35 L305.10 242.35 L306.10 242.36 L307.10 242.36 L308.10 242.36 L309.10 242.37 L310.10 242.37 L311.10 242.37 L312.10 242.38 L313.10 242.38 L314.10 242.38 L315.10 242.38 L316.10 242.39 L317.10 242.39 L318.10 242.39 L319.10 242.39 L320.10 242.39 L321.10 242.40 L322.10 242.40 L323.10 242.40 L324.10 242.40 L325.10 242.40 L326.10 242.40 L327.10 242.40 L328.10 242.40 L328.30 242.40" stroke="#d00000" stroke-width="1.0" stroke-dasharray="1.2 0.9" fill="none"/>
<path d="M27.10 123.00L31.10 127.00M27.10 127.00L31.10 123.00M30.20 127.00L34.20 131.00M30.20 131.00L34.20 127.00M33.60 131.80L37.60 135.80M33.60 135.80L37.60 131.80M37.10 135.70L41.10 139.70M37.10 139.70L41.10 135.70M41.30 140.00L45.30 144.00M41.30 144.00L45.30 140.00M50.80 153.00L54.80 157.00M50.80 157.00L54.80 153.00M60.50 164.40L64.50 168.40M60.50 168.40L64.50 164.40M70.50 175.80L74.50 179.80M70.50 179.80L74.50 175.80M80.40 187.00L84.40 191.00M80.40 191.00L84.40 187.00M90.60 197.30L94.60 201.30M90.60 201.30L94.60 197.30M100.10 206.60L104.10 210.60M100.10 210.60L104.10 206.60M110.40 214.90L114.40 218.90M110.40 218.90L114.40 214.90M120.40 221.40L124.40 225.40M120.40 225.40L124.40 221.40M126.50 224.70L130.50 228.70M126.50 228.70L130.50 224.70M132.30 227.50L136.30 231.50M132.30 231.50L136.30 227.50M137.80 230.10L141.80 234.10M137.80 234.10L141.80 230.10M143.60 231.80L147.60 235.80M143.60 235.80L147.60 231.80M149.00 233.30L153.00 237.30M149.00 237.30L153.00 233.30M155.20 234.80L159.20 238.80M155.20 238.80L159.20 234.80M160.60 236.00L164.60 240.00M160.60 240.00L164.60 236.00M166.80 237.10L170.80 241.10M166.80 241.10L170.80 237.10M172.30 237.90L176.30 241.90M172.30 241.90L176.30 237.90M175.00 238.23L179.00 242.23M175.00 242.23L179.00 238.23M178.40 238.53L182.40 242.53M178.40 242.53L182.40 238.53M181.80 238.72L185.80 242.72M181.80 242.72L185.80 238.72M185.20 238.88L189.20 242.88M185.20 242.88L189.20 238.88M188.60 239.02L192.60 243.02M188.60 243.02L192.60 239.02M192.00 239.14L196.00 243.14M192.00 243.14L196.00 239.14M195.40 239.24L199.40 243.24M195.40 243.24L199.40 239.24M198.80 239.32L202.80 243.32M198.80 243.32L202.80 239.32M202.20 239.39L206.20 243.39M202.20 243.39L206.20 239.39M205.60 239.45L209.60 243.45M205.60 243.45L209.60 239.45M209.00 239.51L213.00 243.51M209.00 243.51L213.00 239.51M212.40 239.56L216.40 243.56M212.40 243.56L216.40 239.56M215.80 239.60L219.80 243.60M215.80 243.60L219.80 239.60M219.20 239.65L223.20 243.65M219.20 243.65L223.20 239.65M222.60 239.69L226.60 243.69M222.60 243.69L226.60 239.69M226.00 239.74L230.00 243.74M226.00 243.74L230.00 239.74M230.50 239.80L234.50 243.80M230.50 243.80L234.50 239.80M235.00 239.86L239.00 243.86M235.00 243.86L239.00 239.86M239.50 239.92L243.50 243.92M239.50 243.92L243.50 239.92M244.00 239.97L248.00 243.97M244.00 243.97L248.00 239.97M248.50 240.02L252.50 244.02M248.50 244.02L252.50 240.02M253.00 240.06L257.00 244.06M253.00 244.06L257.00 240.06M257.50 240.10L261.50 244.10M257.50 244.10L261.50 240.10M264.90 240.15L268.90 244.15M264.90 244.15L268.90 240.15M270.97 240.19L274.97 244.19M270.97 244.19L274.97 240.19M277.04 240.22L281.04 244.22M277.04 244.22L281.04 240.22M283.11 240.26L287.11 244.26M283.11 244.26L287.11 240.26M289.18 240.29L293.18 244.29M289.18 244.29L293.18 240.29M295.25 240.32L299.25 244.32M295.25 244.32L299.25 240.32M301.32 240.35L305.32 244.35M301.32 244.35L305.32 240.35M307.39 240.37L311.39 244.37M307.39 244.37L311.39 240.37M313.46 240.39L317.46 244.39M313.46 244.39L317.46 240.39M319.53 240.40L323.53 244.40M319.53 244.40L323.53 240.40M325.60 240.40L329.60 244.40M325.60 244.40L329.60 240.40" stroke="#d00000" stroke-width="1.25" fill="none"/>
<path d="M29.10 125.00 L30.10 125.00 L31.10 125.00 L32.10 125.00 L33.10 125.00 L34.10 125.00 L35.10 125.00 L36.10 124.98 L37.10 124.93 L38.10 124.85 L39.10 124.75 L40.10 124.65 L41.10 124.52 L42.10 124.32 L43.10 124.06 L44.10 123.74 L45.10 123.38 L46.10 122.98 L47.10 122.55 L48.10 122.09 L49.10 121.59 L50.10 121.00 L51.10 120.31 L52.10 119.55 L53.10 118.74 L54.10 117.87 L55.10 116.98 L56.10 116.07 L57.10 115.13 L58.10 114.12 L59.10 113.03 L60.10 111.89 L61.10 110.71 L62.10 109.51 L63.10 108.30 L64.10 107.10 L65.10 105.91 L66.10 104.70 L67.10 103.48 L68.10 102.24 L69.10 100.99 L70.10 99.72 L71.10 98.44 L72.10 97.15 L73.10 95.84 L74.10 94.53 L75.10 93.23 L76.10 91.90 L77.10 90.54 L78.10 89.11 L79.10 87.61 L80.10 86.00 L81.10 84.26 L82.10 82.44 L83.10 80.57 L84.10 78.69 L85.10 76.85 L86.10 75.00 L87.10 73.13 L88.10 71.25 L89.10 69.39 L90.10 67.56 L91.10 65.76 L92.10 63.96 L93.10 62.19 L94.10 60.43 L95.10 58.71 L96.10 57.03 L97.10 55.40 L98.10 53.80 L99.10 52.23 L100.10 50.68 L101.10 49.13 L102.10 47.58 L103.10 46.00 L104.10 44.42 L105.10 42.86 L106.10 41.36 L107.10 39.94 L108.10 38.59 L109.10 37.30 L110.10 36.06 L111.10 34.85 L112.10 33.68 L113.10 32.54 L114.10 31.42 L115.10 30.33 L116.10 29.26 L117.10 28.23 L118.10 27.24 L119.10 26.30 L120.10 25.40 L121.10 24.52 L122.10 23.67 L123.10 22.86 L124.10 22.08 L125.10 21.34 L126.10 20.64 L127.10 19.95 L128.10 19.29 L129.10 18.67 L130.10 18.09 L131.10 17.55 L132.10 17.05 L133.10 16.59 L134.10 16.15 L135.10 15.73 L136.10 15.32 L137.10 14.92 L138.10 14.52 L139.10 14.12 L140.10 13.74 L141.10 13.38 L142.10 13.05 L143.10 12.76 L144.10 12.48 L145.10 12.23 L146.10 11.99 L147.10 11.76 L148.10 11.55 L149.10 11.34 L150.10 11.14 L151.10 10.95 L152.10 10.77 L153.10 10.60 L154.10 10.44 L155.10 10.29 L156.10 10.14 L157.10 10.00 L158.10 9.86 L159.10 9.73 L160.10 9.62 L161.10 9.51 L162.10 9.42 L163.10 9.33 L164.10 9.25 L165.10 9.18 L166.10 9.10 L167.10 9.02 L168.10 8.94 L169.10 8.86 L170.10 8.77 L171.10 8.69 L172.10 8.61 L173.10 8.53 L174.10 8.47 L175.10 8.40 L176.10 8.34 L177.10 8.27 L178.10 8.22 L179.10 8.17 L180.10 8.13 L181.10 8.09 L182.10 8.07 L183.10 8.04 L184.10 8.02 L185.10 8.00 L186.10 7.98 L187.10 7.96 L188.10 7.94 L189.10 7.92 L190.10 7.91 L191.10 7.89 L192.10 7.88 L193.10 7.87 L194.10 7.85 L195.10 7.84 L196.10 7.83 L197.10 7.82 L198.10 7.81 L199.10 7.81 L200.10 7.80 L201.10 7.79 L202.10 7.79 L203.10 7.78 L204.10 7.77 L205.10 7.77 L206.10 7.76 L207.10 7.76 L208.10 7.75 L209.10 7.75 L210.10 7.74 L211.10 7.74 L212.10 7.73 L213.10 7.73 L214.10 7.72 L215.10 7.72 L216.10 7.71 L217.10 7.71 L218.10 7.71 L219.10 7.70 L220.10 7.70 L221.10 7.69 L222.10 7.69 L223.10 7.69 L224.10 7.68 L225.10 7.68 L226.10 7.68 L227.10 7.67 L228.10 7.67 L229.10 7.67 L230.10 7.67 L231.10 7.66 L232.10 7.66 L233.10 7.66 L234.10 7.66 L235.10 7.66 L236.10 7.66 L237.10 7.65 L238.10 7.65 L239.10 7.65 L240.10 7.65 L241.10 7.65 L242.10 7.65 L243.10 7.65 L244.10 7.65 L245.10 7.64 L246.10 7.64 L247.10 7.64 L248.10 7.64 L249.10 7.64 L250.10 7.64 L251.10 7.64 L252.10 7.64 L253.10 7.64 L254.10 7.64 L255.10 7.63 L256.10 7.63 L257.10 7.63 L258.10 7.63 L259.10 7.63 L260.10 7.63 L261.10 7.63 L262.10 7.63 L263.10 7.63 L264.10 7.63 L265.10 7.63 L266.10 7.63 L267.10 7.62 L268.10 7.62 L269.10 7.62 L270.10 7.62 L271.10 7.62 L272.10 7.62 L273.10 7.62 L274.10 7.62 L275.10 7.62 L276.10 7.62 L277.10 7.62 L278.10 7.62 L279.10 7.62 L280.10 7.62 L281.10 7.61 L282.10 7.61 L283.10 7.61 L284.10 7.61 L285.10 7.61 L286.10 7.61 L287.10 7.61 L288.10 7.61 L289.10 7.61 L290.10 7.61 L291.10 7.61 L292.10 7.61 L293.10 7.61 L294.10 7.61 L295.10 7.61 L296.10 7.61 L297.10 7.61 L298.10 7.61 L299.10 7.61 L300.10 7.61 L301.10 7.61 L302.10 7.60 L303.10 7.60 L304.10 7.60 L305.10 7.60 L306.10 7.60 L307.10 7.60 L308.10 7.60 L309.10 7.60 L310.10 7.60 L311.10 7.60 L312.10 7.60 L313.10 7.60 L314.10 7.60 L315.10 7.60 L316.10 7.60 L317.10 7.60 L318.10 7.60 L319.10 7.60 L320.10 7.60 L321.10 7.60 L322.10 7.60 L323.10 7.60 L324.10 7.60 L325.10 7.60 L326.10 7.60 L327.10 7.60 L328.10 7.60 L328.30 7.60" stroke="#f000f0" stroke-width="1.05" fill="none"/>
<g stroke="#f000f0" stroke-width="0.95" fill="none"><circle cx="29.10" cy="125.00" r="2.15"/><circle cx="35.00" cy="125.00" r="2.15"/><circle cx="40.50" cy="124.60" r="2.15"/><circle cx="48.30" cy="122.00" r="2.15"/><circle cx="56.30" cy="115.88" r="2.15"/><circle cx="64.30" cy="106.86" r="2.15"/><circle cx="73.00" cy="95.97" r="2.15"/><circle cx="79.30" cy="87.30" r="2.15"/><circle cx="84.80" cy="77.40" r="2.15"/><circle cx="90.30" cy="67.20" r="2.15"/><circle cx="96.00" cy="57.20" r="2.15"/><circle cx="101.60" cy="48.36" r="2.15"/><circle cx="107.20" cy="39.80" r="2.15"/><circle cx="113.40" cy="32.20" r="2.15"/><circle cx="119.10" cy="26.30" r="2.15"/><circle cx="124.40" cy="21.86" r="2.15"/><circle cx="130.10" cy="18.09" r="2.15"/><circle cx="136.20" cy="15.28" r="2.15"/><circle cx="142.20" cy="13.02" r="2.15"/><circle cx="148.70" cy="11.42" r="2.15"/><circle cx="155.50" cy="10.23" r="2.15"/><circle cx="161.20" cy="9.50" r="2.15"/><circle cx="167.40" cy="9.00" r="2.15"/><circle cx="173.60" cy="8.50" r="2.15"/><circle cx="180.90" cy="8.10" r="2.15"/><circle cx="187.90" cy="7.94" r="2.15"/><circle cx="196.40" cy="7.83" r="2.15"/><circle cx="203.70" cy="7.78" r="2.15"/><circle cx="212.20" cy="7.73" r="2.15"/><circle cx="220.70" cy="7.70" r="2.15"/><circle cx="229.30" cy="7.67" r="2.15"/><circle cx="241.10" cy="7.65" r="2.15"/><circle cx="251.60" cy="7.64" r="2.15"/><circle cx="264.40" cy="7.63" r="2.15"/><circle cx="276.90" cy="7.62" r="2.15"/><circle cx="291.70" cy="7.61" r="2.15"/><circle cx="305.00" cy="7.60" r="2.15"/><circle cx="321.20" cy="7.60" r="2.15"/></g>
<path d="M29.10 125.00 L30.10 124.48 L31.10 123.97 L32.10 123.47 L33.10 122.97 L34.10 122.49 L35.10 122.01 L36.10 121.57 L37.10 121.15 L38.10 120.69 L39.10 120.14 L40.10 119.43 L41.10 118.57 L42.10 117.61 L43.10 116.56 L44.10 115.47 L45.10 114.37 L46.10 113.29 L47.10 112.23 L48.10 111.16 L49.10 110.06 L50.10 108.92 L51.10 107.74 L52.10 106.50 L53.10 105.19 L54.10 103.79 L55.10 102.29 L56.10 100.69 L57.10 99.01 L58.10 97.25 L59.10 95.42 L60.10 93.54 L61.10 91.60 L62.10 89.55 L63.10 87.34 L64.10 85.05 L65.10 82.72 L66.10 80.40 L67.10 78.15 L68.10 76.00 L69.10 73.90 L70.10 71.82 L71.10 69.76 L72.10 67.69 L73.10 65.61 L74.10 63.52 L75.10 61.44 L76.10 59.38 L77.10 57.37 L78.10 55.42 L79.10 53.53 L80.10 51.68 L81.10 49.87 L82.10 48.06 L83.10 46.26 L84.10 44.44 L85.10 42.59 L86.10 40.75 L87.10 38.97 L88.10 37.28 L89.10 35.70 L90.10 34.18 L91.10 32.72 L92.10 31.33 L93.10 30.02 L94.10 28.80 L95.10 27.64 L96.10 26.54 L97.10 25.49 L98.10 24.47 L99.10 23.49 L100.10 22.53 L101.10 21.60 L102.10 20.70 L103.10 19.83 L104.10 19.00 L105.10 18.21 L106.10 17.44 L107.10 16.70 L108.10 15.99 L109.10 15.33 L110.10 14.72 L111.10 14.15 L112.10 13.60 L113.10 13.10 L114.10 12.64 L115.10 12.25 L116.10 11.89 L117.10 11.57 L118.10 11.27 L119.10 11.00 L120.10 10.75 L121.10 10.52 L122.10 10.30 L123.10 10.10 L124.10 9.91 L125.10 9.73 L126.10 9.55 L127.10 9.38 L128.10 9.23 L129.10 9.11 L130.10 9.01 L131.10 8.91 L132.10 8.82 L133.10 8.73 L134.10 8.65 L135.10 8.57 L136.10 8.51 L137.10 8.44 L138.10 8.39 L139.10 8.34 L140.10 8.30 L141.10 8.26 L142.10 8.22 L143.10 8.18 L144.10 8.15 L145.10 8.11 L146.10 8.08 L147.10 8.05 L148.10 8.02 L149.10 7.99 L150.10 7.97 L151.10 7.94 L152.10 7.92 L153.10 7.90 L154.10 7.88 L155.10 7.86 L156.10 7.84 L157.10 7.83 L158.10 7.82 L159.10 7.81 L160.10 7.80 L161.10 7.79 L162.10 7.79 L163.10 7.78 L164.10 7.77 L165.10 7.77 L166.10 7.76 L167.10 7.75 L168.10 7.75 L169.10 7.74 L170.10 7.74 L171.10 7.73 L172.10 7.73 L173.10 7.72 L174.10 7.72 L175.10 7.71 L176.10 7.71 L177.10 7.70 L178.10 7.70 L179.10 7.70 L180.10 7.69 L181.10 7.69 L182.10 7.69 L183.10 7.68 L184.10 7.68 L185.10 7.68 L186.10 7.67 L187.10 7.67 L188.10 7.67 L189.10 7.67 L190.10 7.66 L191.10 7.66 L192.10 7.66 L193.10 7.66 L194.10 7.66 L195.10 7.66 L196.10 7.65 L197.10 7.65 L198.10 7.65 L199.10 7.65 L200.10 7.65 L201.10 7.65 L202.10 7.65 L203.10 7.65 L204.10 7.65 L205.10 7.65 L206.10 7.65 L207.10 7.64 L208.10 7.64 L209.10 7.64 L210.10 7.64 L211.10 7.64 L212.10 7.64 L213.10 7.64 L214.10 7.64 L215.10 7.64 L216.10 7.64 L217.10 7.64 L218.10 7.64 L219.10 7.64 L220.10 7.63 L221.10 7.63 L222.10 7.63 L223.10 7.63 L224.10 7.63 L225.10 7.63 L226.10 7.63 L227.10 7.63 L228.10 7.63 L229.10 7.63 L230.10 7.63 L231.10 7.63 L232.10 7.63 L233.10 7.63 L234.10 7.63 L235.10 7.63 L236.10 7.63 L237.10 7.62 L238.10 7.62 L239.10 7.62 L240.10 7.62 L241.10 7.62 L242.10 7.62 L243.10 7.62 L244.10 7.62 L245.10 7.62 L246.10 7.62 L247.10 7.62 L248.10 7.62 L249.10 7.62 L250.10 7.62 L251.10 7.62 L252.10 7.62 L253.10 7.62 L254.10 7.62 L255.10 7.62 L256.10 7.62 L257.10 7.61 L258.10 7.61 L259.10 7.61 L260.10 7.61 L261.10 7.61 L262.10 7.61 L263.10 7.61 L264.10 7.61 L265.10 7.61 L266.10 7.61 L267.10 7.61 L268.10 7.61 L269.10 7.61 L270.10 7.61 L271.10 7.61 L272.10 7.61 L273.10 7.61 L274.10 7.61 L275.10 7.61 L276.10 7.61 L277.10 7.61 L278.10 7.61 L279.10 7.61 L280.10 7.61 L281.10 7.61 L282.10 7.61 L283.10 7.61 L284.10 7.61 L285.10 7.61 L286.10 7.61 L287.10 7.60 L288.10 7.60 L289.10 7.60 L290.10 7.60 L291.10 7.60 L292.10 7.60 L293.10 7.60 L294.10 7.60 L295.10 7.60 L296.10 7.60 L297.10 7.60 L298.10 7.60 L299.10 7.60 L300.10 7.60 L301.10 7.60 L302.10 7.60 L303.10 7.60 L304.10 7.60 L305.10 7.60 L306.10 7.60 L307.10 7.60 L308.10 7.60 L309.10 7.60 L310.10 7.60 L311.10 7.60 L312.10 7.60 L313.10 7.60 L314.10 7.60 L315.10 7.60 L316.10 7.60 L317.10 7.60 L318.10 7.60 L319.10 7.60 L320.10 7.60 L321.10 7.60 L322.10 7.60 L323.10 7.60 L324.10 7.60 L325.10 7.60 L326.10 7.60 L327.10 7.60 L328.10 7.60 L328.30 7.60" stroke="#000000" stroke-width="1.0" stroke-dasharray="4.5 2.5" fill="none"/>
<path d="M27.15 123.05h3.90v3.90h-3.90ZM30.05 121.57h3.90v3.90h-3.90ZM32.95 120.15h3.90v3.90h-3.90ZM37.05 118.25h3.90v3.90h-3.90ZM44.25 111.24h3.90v3.90h-3.90ZM51.55 102.69h3.90v3.90h-3.90ZM58.35 91.20h3.90v3.90h-3.90ZM64.95 76.64h3.90v3.90h-3.90ZM70.15 65.74h3.90v3.90h-3.90ZM75.85 54.05h3.90v3.90h-3.90ZM81.35 43.95h3.90v3.90h-3.90ZM86.45 34.85h3.90v3.90h-3.90ZM91.65 27.45h3.90v3.90h-3.90ZM97.45 21.25h3.90v3.90h-3.90ZM102.65 16.65h3.90v3.90h-3.90ZM108.45 12.60h3.90v3.90h-3.90ZM112.95 10.37h3.90v3.90h-3.90ZM117.55 8.95h3.90v3.90h-3.90ZM122.45 7.90h3.90v3.90h-3.90ZM127.05 7.17h3.90v3.90h-3.90ZM132.35 6.68h3.90v3.90h-3.90ZM137.65 6.37h3.90v3.90h-3.90ZM142.95 6.17h3.90v3.90h-3.90ZM148.25 6.01h3.90v3.90h-3.90ZM154.75 5.88h3.90v3.90h-3.90ZM160.25 5.83h3.90v3.90h-3.90ZM166.45 5.80h3.90v3.90h-3.90ZM173.75 5.76h3.90v3.90h-3.90ZM181.35 5.73h3.90v3.90h-3.90ZM190.55 5.71h3.90v3.90h-3.90ZM199.05 5.70h3.90v3.90h-3.90ZM207.65 5.69h3.90v3.90h-3.90ZM218.75 5.68h3.90v3.90h-3.90ZM229.85 5.68h3.90v3.90h-3.90ZM241.15 5.67h3.90v3.90h-3.90ZM253.55 5.67h3.90v3.90h-3.90ZM296.45 5.65h3.90v3.90h-3.90ZM310.55 5.65h3.90v3.90h-3.90ZM319.25 5.65h3.90v3.90h-3.90Z" stroke="#000000" stroke-width="0.8" fill="none"/>
<g font-family="&quot;Liberation Sans&quot;, sans-serif" font-size="10.0" fill="#262626"><text transform="translate(29.10 257.00) scale(0.945 1)" text-anchor="middle">0</text><text transform="translate(88.94 257.00) scale(0.945 1)" text-anchor="middle">1</text><text transform="translate(148.78 257.00) scale(0.945 1)" text-anchor="middle">2</text><text transform="translate(208.62 257.00) scale(0.945 1)" text-anchor="middle">3</text><text transform="translate(268.46 257.00) scale(0.945 1)" text-anchor="middle">4</text><text transform="translate(328.30 257.00) scale(0.945 1)" text-anchor="middle">5</text><text transform="translate(25.20 247.50) scale(0.945 1)" text-anchor="end">0</text><text transform="translate(25.20 200.54) scale(0.945 1)" text-anchor="end">0.2</text><text transform="translate(25.20 153.58) scale(0.945 1)" text-anchor="end">0.4</text><text transform="translate(25.20 106.62) scale(0.945 1)" text-anchor="end">0.6</text><text transform="translate(25.20 59.66) scale(0.945 1)" text-anchor="end">0.8</text><text transform="translate(25.20 12.70) scale(0.945 1)" text-anchor="end">1</text></g>
<path d="M439.60 6.90V241.30M499.30 6.90V241.30M559.00 6.90V241.30M618.70 6.90V241.30M379.90 194.42H678.40M379.90 147.54H678.40M379.90 100.66H678.40M379.90 53.78H678.40" stroke="#e9e9e9" stroke-width="1" fill="none"/>
<path d="M379.90 6.90H678.40V241.30H379.90Z" stroke="#6e6e6e" stroke-width="1.1" fill="none"/>
<path d="M379.90 241.30v-3M379.90 6.90v3M439.60 241.30v-3M439.60 6.90v3M499.30 241.30v-3M499.30 6.90v3M559.00 241.30v-3M559.00 6.90v3M618.70 241.30v-3M618.70 6.90v3M678.40 241.30v-3M678.40 6.90v3M379.90 241.30h3M678.40 241.30h-3M379.90 194.42h3M678.40 194.42h-3M379.90 147.54h3M678.40 147.54h-3M379.90 100.66h3M678.40 100.66h-3M379.90 53.78h3M678.40 53.78h-3M379.90 6.90h3M678.40 6.90h-3" stroke="#444" stroke-width="1" fill="none"/>
<path d="M379.90 124.00 L380.90 124.99 L381.90 125.98 L382.90 126.99 L383.90 128.00 L384.90 129.01 L385.90 130.01 L386.90 131.00 L387.90 131.98 L388.90 132.96 L389.90 133.95 L390.90 134.95 L391.90 135.96 L392.90 136.99 L393.90 138.05 L394.90 139.14 L395.90 140.27 L396.90 141.43 L397.90 142.65 L398.90 143.94 L399.90 145.30 L400.90 146.72 L401.90 148.19 L402.90 149.69 L403.90 151.19 L404.90 152.70 L405.90 154.23 L406.90 155.80 L407.90 157.41 L408.90 159.02 L409.90 160.62 L410.90 162.18 L411.90 163.70 L412.90 165.17 L413.90 166.60 L414.90 168.00 L415.90 169.39 L416.90 170.78 L417.90 172.16 L418.90 173.57 L419.90 174.99 L420.90 176.45 L421.90 177.97 L422.90 179.53 L423.90 181.09 L424.90 182.62 L425.90 184.14 L426.90 185.60 L427.90 186.96 L428.90 188.28 L429.90 189.64 L430.90 191.11 L431.90 192.59 L432.90 193.99 L433.90 195.33 L434.90 196.63 L435.90 197.90 L436.90 199.15 L437.90 200.36 L438.90 201.54 L439.90 202.67 L440.90 203.75 L441.90 204.81 L442.90 205.86 L443.90 206.92 L444.90 207.99 L445.90 209.06 L446.90 210.11 L447.90 211.16 L448.90 212.21 L449.90 213.26 L450.90 214.29 L451.90 215.31 L452.90 216.30 L453.90 217.26 L454.90 218.19 L455.90 219.10 L456.90 219.99 L457.90 220.87 L458.90 221.72 L459.90 222.55 L460.90 223.35 L461.90 224.12 L462.90 224.86 L463.90 225.56 L464.90 226.25 L465.90 226.93 L466.90 227.58 L467.90 228.20 L468.90 228.80 L469.90 229.35 L470.90 229.86 L471.90 230.33 L472.90 230.77 L473.90 231.18 L474.90 231.57 L475.90 231.94 L476.90 232.30 L477.90 232.63 L478.90 232.95 L479.90 233.26 L480.90 233.56 L481.90 233.84 L482.90 234.11 L483.90 234.37 L484.90 234.62 L485.90 234.85 L486.90 235.08 L487.90 235.30 L488.90 235.51 L489.90 235.72 L490.90 235.92 L491.90 236.12 L492.90 236.32 L493.90 236.50 L494.90 236.69 L495.90 236.86 L496.90 237.03 L497.90 237.19 L498.90 237.34 L499.90 237.49 L500.90 237.63 L501.90 237.76 L502.90 237.89 L503.90 238.02 L504.90 238.14 L505.90 238.26 L506.90 238.38 L507.90 238.50 L508.90 238.61 L509.90 238.72 L510.90 238.83 L511.90 238.93 L512.90 239.03 L513.90 239.12 L514.90 239.21 L515.90 239.30 L516.90 239.38 L517.90 239.46 L518.90 239.53 L519.90 239.59 L520.90 239.66 L521.90 239.72 L522.90 239.78 L523.90 239.83 L524.90 239.89 L525.90 239.94 L526.90 240.00 L527.90 240.05 L528.90 240.10 L529.90 240.14 L530.90 240.19 L531.90 240.23 L532.90 240.27 L533.90 240.31 L534.90 240.35 L535.90 240.38 L536.90 240.41 L537.90 240.44 L538.90 240.47 L539.90 240.50 L540.90 240.52 L541.90 240.54 L542.90 240.57 L543.90 240.59 L544.90 240.61 L545.90 240.63 L546.90 240.66 L547.90 240.68 L548.90 240.70 L549.90 240.72 L550.90 240.74 L551.90 240.76 L552.90 240.78 L553.90 240.80 L554.90 240.81 L555.90 240.83 L556.90 240.85 L557.90 240.87 L558.90 240.88 L559.90 240.90 L560.90 240.91 L561.90 240.93 L562.90 240.94 L563.90 240.96 L564.90 240.97 L565.90 240.98 L566.90 240.99 L567.90 241.01 L568.90 241.02 L569.90 241.03 L570.90 241.04 L571.90 241.05 L572.90 241.06 L573.90 241.06 L574.90 241.07 L575.90 241.08 L576.90 241.08 L577.90 241.09 L578.90 241.10 L579.90 241.10 L580.90 241.10 L581.90 241.11 L582.90 241.11 L583.90 241.12 L584.90 241.12 L585.90 241.12 L586.90 241.13 L587.90 241.13 L588.90 241.13 L589.90 241.14 L590.90 241.14 L591.90 241.14 L592.90 241.15 L593.90 241.15 L594.90 241.16 L595.90 241.16 L596.90 241.16 L597.90 241.17 L598.90 241.17 L599.90 241.17 L600.90 241.18 L601.90 241.18 L602.90 241.18 L603.90 241.18 L604.90 241.19 L605.90 241.19 L606.90 241.19 L607.90 241.20 L608.90 241.20 L609.90 241.20 L610.90 241.21 L611.90 241.21 L612.90 241.21 L613.90 241.21 L614.90 241.22 L615.90 241.22 L616.90 241.22 L617.90 241.22 L618.90 241.23 L619.90 241.23 L620.90 241.23 L621.90 241.23 L622.90 241.24 L623.90 241.24 L624.90 241.24 L625.90 241.24 L626.90 241.24 L627.90 241.25 L628.90 241.25 L629.90 241.25 L630.90 241.25 L631.90 241.25 L632.90 241.26 L633.90 241.26 L634.90 241.26 L635.90 241.26 L636.90 241.26 L637.90 241.27 L638.90 241.27 L639.90 241.27 L640.90 241.27 L641.90 241.27 L642.90 241.27 L643.90 241.27 L644.90 241.28 L645.90 241.28 L646.90 241.28 L647.90 241.28 L648.90 241.28 L649.90 241.28 L650.90 241.28 L651.90 241.29 L652.90 241.29 L653.90 241.29 L654.90 241.29 L655.90 241.29 L656.90 241.29 L657.90 241.29 L658.90 241.29 L659.90 241.29 L660.90 241.29 L661.90 241.29 L662.90 241.29 L663.90 241.30 L664.90 241.30 L665.90 241.30 L666.90 241.30 L667.90 241.30 L668.90 241.30 L669.90 241.30 L670.90 241.30 L671.90 241.30 L672.90 241.30 L673.90 241.30 L674.90 241.30 L675.90 241.30 L676.90 241.30 L677.90 241.30 L678.40 241.30" stroke="#ffff00" stroke-width="1.0" fill="none"/>
<path d="M377.50 122.20L382.30 122.20L379.90 126.52ZM383.90 128.60L388.70 128.60L386.30 132.92ZM395.30 140.60L400.10 140.60L397.70 144.92ZM402.50 150.90L407.30 150.90L404.90 155.22ZM411.20 164.37L416.00 164.37L413.60 168.69ZM418.80 175.10L423.60 175.10L421.20 179.42ZM422.29 180.51L427.09 180.51L424.69 184.83ZM425.79 185.54L430.59 185.54L428.19 189.86ZM429.28 190.47L434.08 190.47L431.68 194.79ZM432.78 195.18L437.58 195.18L435.18 199.50ZM436.27 199.47L441.07 199.47L438.67 203.79ZM439.76 203.29L444.56 203.29L442.16 207.61ZM443.26 207.01L448.06 207.01L445.66 211.33ZM446.75 210.68L451.55 210.68L449.15 215.00ZM450.25 214.25L455.05 214.25L452.65 218.57ZM453.74 217.51L458.54 217.51L456.14 221.83ZM457.24 220.54L462.04 220.54L459.64 224.86ZM460.73 223.22L465.53 223.22L463.13 227.54ZM464.22 225.60L469.02 225.60L466.62 229.92ZM467.72 227.66L472.52 227.66L470.12 231.98ZM471.21 229.26L476.01 229.26L473.61 233.58ZM474.71 230.57L479.51 230.57L477.11 234.89ZM478.20 231.67L483.00 231.67L480.60 235.99ZM481.69 232.62L486.49 232.62L484.09 236.94ZM485.19 233.43L489.99 233.43L487.59 237.75ZM488.68 234.16L493.48 234.16L491.08 238.48ZM492.18 234.83L496.98 234.83L494.58 239.15ZM495.67 235.42L500.47 235.42L498.07 239.74ZM499.16 235.91L503.96 235.91L501.56 240.23ZM502.66 236.36L507.46 236.36L505.06 240.68ZM506.15 236.77L510.95 236.77L508.55 241.09ZM509.65 237.15L514.45 237.15L512.05 241.47ZM513.14 237.47L517.94 237.47L515.54 241.79ZM516.64 237.74L521.44 237.74L519.04 242.06ZM520.13 237.95L524.93 237.95L522.53 242.27ZM523.62 238.15L528.42 238.15L526.02 242.47ZM527.12 238.33L531.92 238.33L529.52 242.65ZM530.61 238.48L535.41 238.48L533.01 242.80ZM534.11 238.60L538.91 238.60L536.51 242.92ZM537.60 238.70L542.40 238.70L540.00 243.02ZM542.06 238.80L546.86 238.80L544.46 243.12ZM546.53 238.90L551.33 238.90L548.93 243.22ZM550.99 238.99L555.79 238.99L553.39 243.31ZM555.46 239.06L560.26 239.06L557.86 243.38ZM559.92 239.13L564.72 239.13L562.32 243.45ZM564.39 239.19L569.19 239.19L566.79 243.51ZM568.85 239.24L573.65 239.24L571.25 243.56ZM573.32 239.28L578.12 239.28L575.72 243.60ZM577.78 239.30L582.58 239.30L580.18 243.62ZM582.25 239.32L587.05 239.32L584.65 243.64ZM586.71 239.33L591.51 239.33L589.11 243.65ZM591.17 239.35L595.97 239.35L593.57 243.67ZM595.64 239.37L600.44 239.37L598.04 243.69ZM600.10 239.38L604.90 239.38L602.50 243.70ZM604.57 239.39L609.37 239.39L606.97 243.71ZM609.03 239.41L613.83 239.41L611.43 243.73ZM613.50 239.42L618.30 239.42L615.90 243.74ZM617.96 239.43L622.76 239.43L620.36 243.75ZM622.43 239.44L627.23 239.44L624.83 243.76ZM626.89 239.45L631.69 239.45L629.29 243.77ZM631.35 239.46L636.15 239.46L633.75 243.78ZM635.82 239.47L640.62 239.47L638.22 243.79ZM640.28 239.47L645.08 239.47L642.68 243.79ZM644.75 239.48L649.55 239.48L647.15 243.80ZM649.21 239.48L654.01 239.48L651.61 243.80ZM653.68 239.49L658.48 239.49L656.08 243.81ZM658.14 239.49L662.94 239.49L660.54 243.81ZM662.61 239.50L667.41 239.50L665.01 243.82ZM667.07 239.50L671.87 239.50L669.47 243.82ZM671.54 239.50L676.34 239.50L673.94 243.82ZM676.00 239.50L680.80 239.50L678.40 243.82Z" stroke="#ffff00" stroke-width="0.9" fill="none"/>
<path d="M379.90 124.00 L380.90 124.54 L381.90 125.11 L382.90 125.71 L383.90 126.34 L384.90 127.00 L385.90 127.68 L386.90 128.40 L387.90 129.15 L388.90 129.94 L389.90 130.75 L390.90 131.58 L391.90 132.45 L392.90 133.33 L393.90 134.24 L394.90 135.17 L395.90 136.12 L396.90 137.09 L397.90 138.07 L398.90 139.08 L399.90 140.11 L400.90 141.15 L401.90 142.20 L402.90 143.28 L403.90 144.37 L404.90 145.48 L405.90 146.63 L406.90 147.80 L407.90 148.99 L408.90 150.20 L409.90 151.43 L410.90 152.68 L411.90 153.94 L412.90 155.21 L413.90 156.50 L414.90 157.79 L415.90 159.09 L416.90 160.42 L417.90 161.77 L418.90 163.15 L419.90 164.54 L420.90 165.95 L421.90 167.37 L422.90 168.80 L423.90 170.23 L424.90 171.65 L425.90 173.07 L426.90 174.49 L427.90 175.88 L428.90 177.27 L429.90 178.65 L430.90 180.03 L431.90 181.41 L432.90 182.78 L433.90 184.16 L434.90 185.53 L435.90 186.90 L436.90 188.26 L437.90 189.62 L438.90 190.98 L439.90 192.34 L440.90 193.70 L441.90 195.06 L442.90 196.43 L443.90 197.78 L444.90 199.11 L445.90 200.41 L446.90 201.68 L447.90 202.92 L448.90 204.15 L449.90 205.37 L450.90 206.56 L451.90 207.72 L452.90 208.85 L453.90 209.95 L454.90 211.00 L455.90 212.03 L456.90 213.03 L457.90 214.01 L458.90 214.97 L459.90 215.89 L460.90 216.78 L461.90 217.63 L462.90 218.44 L463.90 219.22 L464.90 219.97 L465.90 220.70 L466.90 221.40 L467.90 222.08 L468.90 222.73 L469.90 223.34 L470.90 223.92 L471.90 224.47 L472.90 224.99 L473.90 225.48 L474.90 225.96 L475.90 226.41 L476.90 226.85 L477.90 227.27 L478.90 227.68 L479.90 228.08 L480.90 228.47 L481.90 228.85 L482.90 229.21 L483.90 229.57 L484.90 229.92 L485.90 230.25 L486.90 230.58 L487.90 230.90 L488.90 231.21 L489.90 231.52 L490.90 231.83 L491.90 232.13 L492.90 232.43 L493.90 232.72 L494.90 233.00 L495.90 233.28 L496.90 233.55 L497.90 233.81 L498.90 234.06 L499.90 234.31 L500.90 234.55 L501.90 234.78 L502.90 235.00 L503.90 235.22 L504.90 235.43 L505.90 235.64 L506.90 235.84 L507.90 236.03 L508.90 236.22 L509.90 236.40 L510.90 236.58 L511.90 236.76 L512.90 236.93 L513.90 237.10 L514.90 237.27 L515.90 237.43 L516.90 237.59 L517.90 237.74 L518.90 237.89 L519.90 238.02 L520.90 238.14 L521.90 238.26 L522.90 238.36 L523.90 238.47 L524.90 238.58 L525.90 238.68 L526.90 238.77 L527.90 238.87 L528.90 238.96 L529.90 239.05 L530.90 239.13 L531.90 239.21 L532.90 239.29 L533.90 239.36 L534.90 239.43 L535.90 239.49 L536.90 239.55 L537.90 239.60 L538.90 239.65 L539.90 239.70 L540.90 239.75 L541.90 239.79 L542.90 239.84 L543.90 239.89 L544.90 239.93 L545.90 239.97 L546.90 240.01 L547.90 240.05 L548.90 240.09 L549.90 240.13 L550.90 240.17 L551.90 240.20 L552.90 240.24 L553.90 240.27 L554.90 240.31 L555.90 240.34 L556.90 240.37 L557.90 240.40 L558.90 240.43 L559.90 240.46 L560.90 240.48 L561.90 240.51 L562.90 240.54 L563.90 240.56 L564.90 240.59 L565.90 240.61 L566.90 240.63 L567.90 240.66 L568.90 240.68 L569.90 240.70 L570.90 240.72 L571.90 240.74 L572.90 240.76 L573.90 240.78 L574.90 240.80 L575.90 240.82 L576.90 240.84 L577.90 240.86 L578.90 240.88 L579.90 240.90 L580.90 240.91 L581.90 240.93 L582.90 240.95 L583.90 240.97 L584.90 240.98 L585.90 241.00 L586.90 241.02 L587.90 241.03 L588.90 241.05 L589.90 241.06 L590.90 241.08 L591.90 241.09 L592.90 241.10 L593.90 241.12 L594.90 241.13 L595.90 241.14 L596.90 241.15 L597.90 241.16 L598.90 241.17 L599.90 241.17 L600.90 241.18 L601.90 241.19 L602.90 241.19 L603.90 241.20 L604.90 241.20 L605.90 241.20 L606.90 241.21 L607.90 241.21 L608.90 241.21 L609.90 241.21 L610.90 241.22 L611.90 241.22 L612.90 241.22 L613.90 241.22 L614.90 241.23 L615.90 241.23 L616.90 241.23 L617.90 241.23 L618.90 241.23 L619.90 241.24 L620.90 241.24 L621.90 241.24 L622.90 241.24 L623.90 241.25 L624.90 241.25 L625.90 241.25 L626.90 241.25 L627.90 241.25 L628.90 241.25 L629.90 241.26 L630.90 241.26 L631.90 241.26 L632.90 241.26 L633.90 241.26 L634.90 241.27 L635.90 241.27 L636.90 241.27 L637.90 241.27 L638.90 241.27 L639.90 241.27 L640.90 241.27 L641.90 241.28 L642.90 241.28 L643.90 241.28 L644.90 241.28 L645.90 241.28 L646.90 241.28 L647.90 241.28 L648.90 241.28 L649.90 241.29 L650.90 241.29 L651.90 241.29 L652.90 241.29 L653.90 241.29 L654.90 241.29 L655.90 241.29 L656.90 241.29 L657.90 241.29 L658.90 241.29 L659.90 241.29 L660.90 241.29 L661.90 241.30 L662.90 241.30 L663.90 241.30 L664.90 241.30 L665.90 241.30 L666.90 241.30 L667.90 241.30 L668.90 241.30 L669.90 241.30 L670.90 241.30 L671.90 241.30 L672.90 241.30 L673.90 241.30 L674.90 241.30 L675.90 241.30 L676.90 241.30 L677.90 241.30 L678.40 241.30" stroke="#0000ff" stroke-width="1.1" stroke-dasharray="4.5 2.8" fill="none"/>
<path d="M377.40 124.00L382.40 124.00M379.90 121.50L379.90 126.50M378.10 122.20L381.70 125.80M378.10 125.80L381.70 122.20M380.10 125.53L385.10 125.53M382.60 123.03L382.60 128.03M380.80 123.73L384.40 127.33M380.80 127.33L384.40 123.73M382.70 127.20L387.70 127.20M385.20 124.70L385.20 129.70M383.40 125.40L387.00 129.00M383.40 129.00L387.00 125.40M385.50 129.23L390.50 129.23M388.00 126.73L388.00 131.73M386.20 127.43L389.80 131.03M386.20 131.03L389.80 127.43M388.30 131.50L393.30 131.50M390.80 129.00L390.80 134.00M389.00 129.70L392.60 133.30M389.00 133.30L392.60 129.70M391.00 133.87L396.00 133.87M393.50 131.37L393.50 136.37M391.70 132.07L395.30 135.67M391.70 135.67L395.30 132.07M400.70 143.60L405.70 143.60M403.20 141.10L403.20 146.10M401.40 141.80L405.00 145.40M401.40 145.40L405.00 141.80M413.10 158.70L418.10 158.70M415.60 156.20L415.60 161.20M413.80 156.90L417.40 160.50M413.80 160.50L417.40 156.90M425.70 176.30L430.70 176.30M428.20 173.80L428.20 178.80M426.40 174.50L430.00 178.10M426.40 178.10L430.00 174.50M437.30 192.20L442.30 192.20M439.80 189.70L439.80 194.70M438.00 190.40L441.60 194.00M438.00 194.00L441.60 190.40M440.53 196.61L445.53 196.61M443.03 194.11L443.03 199.11M441.23 194.81L444.83 198.41M441.23 198.41L444.83 194.81M443.76 200.88L448.76 200.88M446.26 198.38L446.26 203.38M444.46 199.08L448.06 202.68M444.46 202.68L448.06 199.08M447.00 204.88L452.00 204.88M449.50 202.38L449.50 207.38M447.70 203.08L451.30 206.68M447.70 206.68L451.30 203.08M450.23 208.66L455.23 208.66M452.73 206.16L452.73 211.16M450.93 206.86L454.53 210.46M450.93 210.46L454.53 206.86M453.46 212.09L458.46 212.09M455.96 209.59L455.96 214.59M454.16 210.29L457.76 213.89M454.16 213.89L457.76 210.29M456.69 215.24L461.69 215.24M459.19 212.74L459.19 217.74M457.39 213.44L460.99 217.04M457.39 217.04L460.99 213.44M459.93 218.06L464.93 218.06M462.43 215.56L462.43 220.56M460.63 216.26L464.23 219.86M460.63 219.86L464.23 216.26M463.16 220.53L468.16 220.53M465.66 218.03L465.66 223.03M463.86 218.73L467.46 222.33M463.86 222.33L467.46 218.73M466.39 222.72L471.39 222.72M468.89 220.22L468.89 225.22M467.09 220.92L470.69 224.52M467.09 224.52L470.69 220.92M469.62 224.59L474.62 224.59M472.12 222.09L472.12 227.09M470.32 222.79L473.92 226.39M470.32 226.39L473.92 222.79M472.85 226.16L477.85 226.16M475.35 223.66L475.35 228.66M473.55 224.36L477.15 227.96M473.55 227.96L477.15 224.36M476.09 227.55L481.09 227.55M478.59 225.05L478.59 230.05M476.79 225.75L480.39 229.35M476.79 229.35L480.39 225.75M479.32 228.82L484.32 228.82M481.82 226.32L481.82 231.32M480.02 227.02L483.62 230.62M480.02 230.62L483.62 227.02M482.55 229.97L487.55 229.97M485.05 227.47L485.05 232.47M483.25 228.17L486.85 231.77M483.25 231.77L486.85 228.17M485.78 231.02L490.78 231.02M488.28 228.52L488.28 233.52M486.48 229.22L490.08 232.82M486.48 232.82L490.08 229.22M489.02 232.02L494.02 232.02M491.52 229.52L491.52 234.52M489.72 230.22L493.32 233.82M489.72 233.82L493.32 230.22M492.25 232.96L497.25 232.96M494.75 230.46L494.75 235.46M492.95 231.16L496.55 234.76M492.95 234.76L496.55 231.16M495.48 233.83L500.48 233.83M497.98 231.33L497.98 236.33M496.18 232.03L499.78 235.63M496.18 235.63L499.78 232.03M498.71 234.62L503.71 234.62M501.21 232.12L501.21 237.12M499.41 232.82L503.01 236.42M499.41 236.42L503.01 232.82M501.95 235.34L506.95 235.34M504.45 232.84L504.45 237.84M502.65 233.54L506.25 237.14M502.65 237.14L506.25 233.54M505.18 235.99L510.18 235.99M507.68 233.49L507.68 238.49M505.88 234.19L509.48 237.79M505.88 237.79L509.48 234.19M508.41 236.58L513.41 236.58M510.91 234.08L510.91 239.08M509.11 234.78L512.71 238.38M509.11 238.38L512.71 234.78M511.64 237.14L516.64 237.14M514.14 234.64L514.14 239.64M512.34 235.34L515.94 238.94M512.34 238.94L515.94 235.34M514.87 237.66L519.87 237.66M517.37 235.16L517.37 240.16M515.57 235.86L519.17 239.46M515.57 239.46L519.17 235.86M518.11 238.11L523.11 238.11M520.61 235.61L520.61 240.61M518.81 236.31L522.41 239.91M518.81 239.91L522.41 236.31M521.34 238.47L526.34 238.47M523.84 235.97L523.84 240.97M522.04 236.67L525.64 240.27M522.04 240.27L525.64 236.67M524.57 238.79L529.57 238.79M527.07 236.29L527.07 241.29M525.27 236.99L528.87 240.59M525.27 240.59L528.87 236.99M527.80 239.08L532.80 239.08M530.30 236.58L530.30 241.58M528.50 237.28L532.10 240.88M528.50 240.88L532.10 237.28M531.04 239.33L536.04 239.33M533.54 236.83L533.54 241.83M531.74 237.53L535.34 241.13M531.74 241.13L535.34 237.53M534.27 239.54L539.27 239.54M536.77 237.04L536.77 242.04M534.97 237.74L538.57 241.34M534.97 241.34L538.57 237.74M537.50 239.70L542.50 239.70M540.00 237.20L540.00 242.20M538.20 237.90L541.80 241.50M538.20 241.50L541.80 237.90M542.63 239.94L547.63 239.94M545.13 237.44L545.13 242.44M543.33 238.14L546.93 241.74M543.33 241.74L546.93 238.14M547.75 240.14L552.75 240.14M550.25 237.64L550.25 242.64M548.45 238.34L552.05 241.94M548.45 241.94L552.05 238.34M552.88 240.32L557.88 240.32M555.38 237.82L555.38 242.82M553.58 238.52L557.18 242.12M553.58 242.12L557.18 238.52M558.00 240.47L563.00 240.47M560.50 237.97L560.50 242.97M558.70 238.67L562.30 242.27M558.70 242.27L562.30 238.67M563.13 240.60L568.13 240.60M565.63 238.10L565.63 243.10M563.83 238.80L567.43 242.40M563.83 242.40L567.43 238.80M568.26 240.72L573.26 240.72M570.76 238.22L570.76 243.22M568.96 238.92L572.56 242.52M568.96 242.52L572.56 238.92M573.38 240.82L578.38 240.82M575.88 238.32L575.88 243.32M574.08 239.02L577.68 242.62M574.08 242.62L577.68 239.02M578.51 240.92L583.51 240.92M581.01 238.42L581.01 243.42M579.21 239.12L582.81 242.72M579.21 242.72L582.81 239.12M583.63 241.00L588.63 241.00M586.13 238.50L586.13 243.50M584.33 239.20L587.93 242.80M584.33 242.80L587.93 239.20M588.76 241.08L593.76 241.08M591.26 238.58L591.26 243.58M589.46 239.28L593.06 242.88M589.46 242.88L593.06 239.28M593.89 241.14L598.89 241.14M596.39 238.64L596.39 243.64M594.59 239.34L598.19 242.94M594.59 242.94L598.19 239.34M599.01 241.18L604.01 241.18M601.51 238.68L601.51 243.68M599.71 239.38L603.31 242.98M599.71 242.98L603.31 239.38M604.14 241.20L609.14 241.20M606.64 238.70L606.64 243.70M604.84 239.40L608.44 243.00M604.84 243.00L608.44 239.40M609.26 241.22L614.26 241.22M611.76 238.72L611.76 243.72M609.96 239.42L613.56 243.02M609.96 243.02L613.56 239.42M614.39 241.23L619.39 241.23M616.89 238.73L616.89 243.73M615.09 239.43L618.69 243.03M615.09 243.03L618.69 239.43M619.51 241.24L624.51 241.24M622.01 238.74L622.01 243.74M620.21 239.44L623.81 243.04M620.21 243.04L623.81 239.44M624.64 241.25L629.64 241.25M627.14 238.75L627.14 243.75M625.34 239.45L628.94 243.05M625.34 243.05L628.94 239.45M629.77 241.26L634.77 241.26M632.27 238.76L632.27 243.76M630.47 239.46L634.07 243.06M630.47 243.06L634.07 239.46M634.89 241.27L639.89 241.27M637.39 238.77L637.39 243.77M635.59 239.47L639.19 243.07M635.59 243.07L639.19 239.47M640.02 241.28L645.02 241.28M642.52 238.78L642.52 243.78M640.72 239.48L644.32 243.08M640.72 243.08L644.32 239.48M645.14 241.28L650.14 241.28M647.64 238.78L647.64 243.78M645.84 239.48L649.44 243.08M645.84 243.08L649.44 239.48M650.27 241.29L655.27 241.29M652.77 238.79L652.77 243.79M650.97 239.49L654.57 243.09M650.97 243.09L654.57 239.49M655.40 241.29L660.40 241.29M657.90 238.79L657.90 243.79M656.10 239.49L659.70 243.09M656.10 243.09L659.70 239.49M660.52 241.30L665.52 241.30M663.02 238.80L663.02 243.80M661.22 239.50L664.82 243.10M661.22 243.10L664.82 239.50M665.65 241.30L670.65 241.30M668.15 238.80L668.15 243.80M666.35 239.50L669.95 243.10M666.35 243.10L669.95 239.50M670.77 241.30L675.77 241.30M673.27 238.80L673.27 243.80M671.47 239.50L675.07 243.10M671.47 243.10L675.07 239.50M675.90 241.30L680.90 241.30M678.40 238.80L678.40 243.80M676.60 239.50L680.20 243.10M676.60 243.10L680.20 239.50" stroke="#0000ff" stroke-width="1.15" fill="none"/>
<path d="M379.90 124.00 L380.90 124.01 L381.90 124.04 L382.90 124.08 L383.90 124.17 L384.90 124.35 L385.90 124.58 L386.90 124.81 L387.90 125.02 L388.90 125.21 L389.90 125.41 L390.90 125.62 L391.90 125.85 L392.90 126.11 L393.90 126.40 L394.90 126.71 L395.90 127.03 L396.90 127.38 L397.90 127.75 L398.90 128.13 L399.90 128.52 L400.90 128.93 L401.90 129.34 L402.90 129.77 L403.90 130.21 L404.90 130.67 L405.90 131.16 L406.90 131.67 L407.90 132.20 L408.90 132.75 L409.90 133.31 L410.90 133.89 L411.90 134.48 L412.90 135.08 L413.90 135.68 L414.90 136.31 L415.90 136.96 L416.90 137.63 L417.90 138.32 L418.90 139.02 L419.90 139.73 L420.90 140.46 L421.90 141.19 L422.90 141.93 L423.90 142.67 L424.90 143.41 L425.90 144.16 L426.90 144.92 L427.90 145.68 L428.90 146.46 L429.90 147.26 L430.90 148.08 L431.90 148.92 L432.90 149.78 L433.90 150.67 L434.90 151.61 L435.90 152.58 L436.90 153.59 L437.90 154.63 L438.90 155.68 L439.90 156.75 L440.90 157.83 L441.90 158.90 L442.90 159.96 L443.90 161.01 L444.90 162.06 L445.90 163.11 L446.90 164.16 L447.90 165.22 L448.90 166.28 L449.90 167.34 L450.90 168.41 L451.90 169.48 L452.90 170.57 L453.90 171.66 L454.90 172.77 L455.90 173.89 L456.90 175.03 L457.90 176.17 L458.90 177.30 L459.90 178.43 L460.90 179.54 L461.90 180.63 L462.90 181.70 L463.90 182.73 L464.90 183.76 L465.90 184.76 L466.90 185.76 L467.90 186.75 L468.90 187.72 L469.90 188.68 L470.90 189.64 L471.90 190.59 L472.90 191.53 L473.90 192.47 L474.90 193.38 L475.90 194.28 L476.90 195.17 L477.90 196.07 L478.90 196.96 L479.90 197.88 L480.90 198.80 L481.90 199.74 L482.90 200.67 L483.90 201.60 L484.90 202.51 L485.90 203.41 L486.90 204.30 L487.90 205.18 L488.90 206.04 L489.90 206.88 L490.90 207.68 L491.90 208.45 L492.90 209.20 L493.90 209.94 L494.90 210.66 L495.90 211.39 L496.90 212.12 L497.90 212.85 L498.90 213.59 L499.90 214.31 L500.90 215.03 L501.90 215.73 L502.90 216.41 L503.90 217.08 L504.90 217.74 L505.90 218.38 L506.90 219.00 L507.90 219.60 L508.90 220.17 L509.90 220.73 L510.90 221.27 L511.90 221.79 L512.90 222.30 L513.90 222.80 L514.90 223.28 L515.90 223.76 L516.90 224.22 L517.90 224.67 L518.90 225.12 L519.90 225.57 L520.90 226.01 L521.90 226.44 L522.90 226.87 L523.90 227.30 L524.90 227.72 L525.90 228.13 L526.90 228.56 L527.90 228.97 L528.90 229.36 L529.90 229.73 L530.90 230.06 L531.90 230.38 L532.90 230.67 L533.90 230.95 L534.90 231.23 L535.90 231.51 L536.90 231.81 L537.90 232.09 L538.90 232.36 L539.90 232.58 L540.90 232.77 L541.90 232.94 L542.90 233.10 L543.90 233.26 L544.90 233.41 L545.90 233.55 L546.90 233.69 L547.90 233.82 L548.90 233.94 L549.90 234.06 L550.90 234.18 L551.90 234.29 L552.90 234.40 L553.90 234.51 L554.90 234.62 L555.90 234.73 L556.90 234.84 L557.90 234.96 L558.90 235.07 L559.90 235.19 L560.90 235.31 L561.90 235.43 L562.90 235.54 L563.90 235.66 L564.90 235.78 L565.90 235.89 L566.90 236.01 L567.90 236.12 L568.90 236.24 L569.90 236.35 L570.90 236.46 L571.90 236.57 L572.90 236.68 L573.90 236.78 L574.90 236.89 L575.90 236.99 L576.90 237.09 L577.90 237.19 L578.90 237.29 L579.90 237.39 L580.90 237.49 L581.90 237.58 L582.90 237.67 L583.90 237.77 L584.90 237.86 L585.90 237.95 L586.90 238.04 L587.90 238.12 L588.90 238.21 L589.90 238.30 L590.90 238.38 L591.90 238.47 L592.90 238.55 L593.90 238.63 L594.90 238.71 L595.90 238.79 L596.90 238.87 L597.90 238.94 L598.90 239.02 L599.90 239.09 L600.90 239.17 L601.90 239.24 L602.90 239.32 L603.90 239.39 L604.90 239.46 L605.90 239.54 L606.90 239.61 L607.90 239.68 L608.90 239.75 L609.90 239.82 L610.90 239.89 L611.90 239.96 L612.90 240.02 L613.90 240.09 L614.90 240.14 L615.90 240.20 L616.90 240.26 L617.90 240.31 L618.90 240.35 L619.90 240.40 L620.90 240.44 L621.90 240.48 L622.90 240.52 L623.90 240.56 L624.90 240.59 L625.90 240.63 L626.90 240.67 L627.90 240.70 L628.90 240.73 L629.90 240.77 L630.90 240.80 L631.90 240.83 L632.90 240.85 L633.90 240.88 L634.90 240.91 L635.90 240.93 L636.90 240.95 L637.90 240.97 L638.90 240.98 L639.90 241.00 L640.90 241.01 L641.90 241.02 L642.90 241.04 L643.90 241.05 L644.90 241.06 L645.90 241.07 L646.90 241.09 L647.90 241.10 L648.90 241.11 L649.90 241.12 L650.90 241.13 L651.90 241.14 L652.90 241.15 L653.90 241.16 L654.90 241.17 L655.90 241.18 L656.90 241.19 L657.90 241.20 L658.90 241.21 L659.90 241.22 L660.90 241.23 L661.90 241.23 L662.90 241.24 L663.90 241.25 L664.90 241.26 L665.90 241.26 L666.90 241.27 L667.90 241.27 L668.90 241.28 L669.90 241.28 L670.90 241.29 L671.90 241.29 L672.90 241.29 L673.90 241.29 L674.90 241.30 L675.90 241.30 L676.90 241.30 L677.90 241.30 L678.40 241.30" stroke="#d00000" stroke-width="1.0" stroke-dasharray="1.2 0.9" fill="none"/>
<path d="M377.90 122.00L381.90 126.00M377.90 126.00L381.90 122.00M381.20 122.10L385.20 126.10M381.20 126.10L385.20 122.10M385.30 122.90L389.30 126.90M385.30 126.90L389.30 122.90M390.10 123.90L394.10 127.90M390.10 127.90L394.10 123.90M401.20 127.90L405.20 131.90M401.20 131.90L405.20 127.90M411.60 133.50L415.60 137.50M411.60 137.50L415.60 133.50M421.40 140.30L425.40 144.30M421.40 144.30L425.40 140.30M431.60 148.40L435.60 152.40M431.60 152.40L435.60 148.40M441.60 158.70L445.60 162.70M441.60 162.70L445.60 158.70M451.30 169.00L455.30 173.00M451.30 173.00L455.30 169.00M461.00 179.80L465.00 183.80M461.00 183.80L465.00 179.80M471.40 190.00L475.40 194.00M471.40 194.00L475.40 190.00M477.60 195.60L481.60 199.60M477.60 199.60L481.60 195.60M483.00 200.60L487.00 204.60M483.00 204.60L487.00 200.60M488.30 205.20L492.30 209.20M488.30 209.20L492.30 205.20M494.60 209.90L498.60 213.90M494.60 213.90L498.60 209.90M500.30 214.00L504.30 218.00M500.30 218.00L504.30 214.00M505.90 217.60L509.90 221.60M505.90 221.60L509.90 217.60M511.70 220.70L515.70 224.70M511.70 224.70L515.70 220.70M517.30 223.30L521.30 227.30M517.30 227.30L521.30 223.30M523.10 225.80L527.10 229.80M523.10 229.80L527.10 225.80M528.10 227.80L532.10 231.80M528.10 231.80L532.10 227.80M533.50 229.40L537.50 233.40M533.50 233.40L537.50 229.40M538.00 230.60L542.00 234.60M538.00 234.60L542.00 230.60M542.00 231.28L546.00 235.28M542.00 235.28L546.00 231.28M546.00 231.83L550.00 235.83M546.00 235.83L550.00 231.83M550.00 232.30L554.00 236.30M550.00 236.30L554.00 232.30M554.00 232.75L558.00 236.75M554.00 236.75L558.00 232.75M558.00 233.20L562.00 237.20M558.00 237.20L562.00 233.20M562.00 233.67L566.00 237.67M562.00 237.67L566.00 233.67M566.00 234.13L570.00 238.13M566.00 238.13L570.00 234.13M570.00 234.58L574.00 238.58M570.00 238.58L574.00 234.58M574.00 235.00L578.00 239.00M574.00 239.00L578.00 235.00M578.00 235.40L582.00 239.40M578.00 239.40L582.00 235.40M582.00 235.78L586.00 239.78M582.00 239.78L586.00 235.78M586.00 236.13L590.00 240.13M586.00 240.13L590.00 236.13M590.00 236.47L594.00 240.47M590.00 240.47L594.00 236.47M594.00 236.80L598.00 240.80M594.00 240.80L598.00 236.80M598.00 237.10L602.00 241.10M598.00 241.10L602.00 237.10M603.60 237.52L607.60 241.52M603.60 241.52L607.60 237.52M609.20 237.91L613.20 241.91M609.20 241.91L613.20 237.91M614.80 238.25L618.80 242.25M614.80 242.25L618.80 238.25M620.40 238.50L624.40 242.50M620.40 242.50L624.40 238.50M626.00 238.70L630.00 242.70M626.00 242.70L630.00 238.70M631.60 238.87L635.60 242.87M631.60 242.87L635.60 238.87M637.20 238.99L641.20 242.99M637.20 242.99L641.20 238.99M642.80 239.06L646.80 243.06M642.80 243.06L646.80 239.06M648.40 239.13L652.40 243.13M648.40 243.13L652.40 239.13M654.00 239.18L658.00 243.18M654.00 243.18L658.00 239.18M659.60 239.23L663.60 243.23M659.60 243.23L663.60 239.23M665.20 239.27L669.20 243.27M665.20 243.27L669.20 239.27M670.80 239.29L674.80 243.29M670.80 243.29L674.80 239.29M676.40 239.30L680.40 243.30M676.40 243.30L680.40 239.30" stroke="#d00000" stroke-width="1.25" fill="none"/>
<path d="M379.90 124.00 L380.90 123.44 L381.90 122.86 L382.90 122.26 L383.90 121.64 L384.90 121.00 L385.90 120.34 L386.90 119.67 L387.90 118.97 L388.90 118.26 L389.90 117.53 L390.90 116.79 L391.90 116.02 L392.90 115.25 L393.90 114.45 L394.90 113.64 L395.90 112.82 L396.90 111.97 L397.90 111.10 L398.90 110.21 L399.90 109.29 L400.90 108.35 L401.90 107.37 L402.90 106.35 L403.90 105.31 L404.90 104.25 L405.90 103.17 L406.90 102.08 L407.90 100.98 L408.90 99.87 L409.90 98.75 L410.90 97.62 L411.90 96.47 L412.90 95.29 L413.90 94.07 L414.90 92.82 L415.90 91.53 L416.90 90.17 L417.90 88.73 L418.90 87.22 L419.90 85.69 L420.90 84.15 L421.90 82.63 L422.90 81.16 L423.90 79.71 L424.90 78.27 L425.90 76.83 L426.90 75.41 L427.90 74.00 L428.90 72.60 L429.90 71.22 L430.90 69.85 L431.90 68.49 L432.90 67.15 L433.90 65.82 L434.90 64.51 L435.90 63.21 L436.90 61.94 L437.90 60.67 L438.90 59.41 L439.90 58.14 L440.90 56.87 L441.90 55.59 L442.90 54.31 L443.90 53.03 L444.90 51.75 L445.90 50.47 L446.90 49.20 L447.90 47.92 L448.90 46.65 L449.90 45.37 L450.90 44.10 L451.90 42.84 L452.90 41.60 L453.90 40.37 L454.90 39.14 L455.90 37.92 L456.90 36.73 L457.90 35.57 L458.90 34.44 L459.90 33.34 L460.90 32.26 L461.90 31.21 L462.90 30.18 L463.90 29.19 L464.90 28.23 L465.90 27.28 L466.90 26.36 L467.90 25.47 L468.90 24.62 L469.90 23.82 L470.90 23.07 L471.90 22.36 L472.90 21.68 L473.90 21.02 L474.90 20.38 L475.90 19.74 L476.90 19.09 L477.90 18.46 L478.90 17.84 L479.90 17.25 L480.90 16.70 L481.90 16.20 L482.90 15.72 L483.90 15.26 L484.90 14.83 L485.90 14.43 L486.90 14.07 L487.90 13.73 L488.90 13.42 L489.90 13.12 L490.90 12.84 L491.90 12.58 L492.90 12.32 L493.90 12.08 L494.90 11.85 L495.90 11.62 L496.90 11.41 L497.90 11.20 L498.90 11.00 L499.90 10.80 L500.90 10.60 L501.90 10.40 L502.90 10.20 L503.90 10.01 L504.90 9.83 L505.90 9.67 L506.90 9.51 L507.90 9.37 L508.90 9.23 L509.90 9.10 L510.90 8.97 L511.90 8.85 L512.90 8.73 L513.90 8.61 L514.90 8.49 L515.90 8.38 L516.90 8.29 L517.90 8.21 L518.90 8.14 L519.90 8.07 L520.90 8.01 L521.90 7.94 L522.90 7.88 L523.90 7.82 L524.90 7.76 L525.90 7.70 L526.90 7.65 L527.90 7.60 L528.90 7.55 L529.90 7.50 L530.90 7.46 L531.90 7.42 L532.90 7.38 L533.90 7.34 L534.90 7.31 L535.90 7.28 L536.90 7.26 L537.90 7.23 L538.90 7.22 L539.90 7.20 L540.90 7.19 L541.90 7.18 L542.90 7.17 L543.90 7.16 L544.90 7.15 L545.90 7.14 L546.90 7.13 L547.90 7.12 L548.90 7.11 L549.90 7.10 L550.90 7.09 L551.90 7.08 L552.90 7.07 L553.90 7.06 L554.90 7.06 L555.90 7.05 L556.90 7.04 L557.90 7.03 L558.90 7.03 L559.90 7.02 L560.90 7.02 L561.90 7.01 L562.90 7.00 L563.90 7.00 L564.90 6.99 L565.90 6.99 L566.90 6.98 L567.90 6.98 L568.90 6.98 L569.90 6.97 L570.90 6.97 L571.90 6.97 L572.90 6.96 L573.90 6.96 L574.90 6.96 L575.90 6.96 L576.90 6.95 L577.90 6.95 L578.90 6.95 L579.90 6.95 L580.90 6.95 L581.90 6.95 L582.90 6.95 L583.90 6.95 L584.90 6.94 L585.90 6.94 L586.90 6.94 L587.90 6.94 L588.90 6.94 L589.90 6.94 L590.90 6.94 L591.90 6.94 L592.90 6.94 L593.90 6.94 L594.90 6.94 L595.90 6.93 L596.90 6.93 L597.90 6.93 L598.90 6.93 L599.90 6.93 L600.90 6.93 L601.90 6.93 L602.90 6.93 L603.90 6.93 L604.90 6.93 L605.90 6.93 L606.90 6.93 L607.90 6.92 L608.90 6.92 L609.90 6.92 L610.90 6.92 L611.90 6.92 L612.90 6.92 L613.90 6.92 L614.90 6.92 L615.90 6.92 L616.90 6.92 L617.90 6.92 L618.90 6.92 L619.90 6.92 L620.90 6.92 L621.90 6.92 L622.90 6.92 L623.90 6.91 L624.90 6.91 L625.90 6.91 L626.90 6.91 L627.90 6.91 L628.90 6.91 L629.90 6.91 L630.90 6.91 L631.90 6.91 L632.90 6.91 L633.90 6.91 L634.90 6.91 L635.90 6.91 L636.90 6.91 L637.90 6.91 L638.90 6.91 L639.90 6.91 L640.90 6.91 L641.90 6.91 L642.90 6.91 L643.90 6.91 L644.90 6.91 L645.90 6.91 L646.90 6.90 L647.90 6.90 L648.90 6.90 L649.90 6.90 L650.90 6.90 L651.90 6.90 L652.90 6.90 L653.90 6.90 L654.90 6.90 L655.90 6.90 L656.90 6.90 L657.90 6.90 L658.90 6.90 L659.90 6.90 L660.90 6.90 L661.90 6.90 L662.90 6.90 L663.90 6.90 L664.90 6.90 L665.90 6.90 L666.90 6.90 L667.90 6.90 L668.90 6.90 L669.90 6.90 L670.90 6.90 L671.90 6.90 L672.90 6.90 L673.90 6.90 L674.90 6.90 L675.90 6.90 L676.90 6.90 L677.90 6.90 L678.40 6.90" stroke="#f000f0" stroke-width="1.05" fill="none"/>
<g stroke="#f000f0" stroke-width="0.95" fill="none"><circle cx="379.90" cy="124.00" r="2.15"/><circle cx="384.90" cy="121.00" r="2.15"/><circle cx="391.80" cy="116.10" r="2.15"/><circle cx="400.00" cy="109.20" r="2.15"/><circle cx="407.70" cy="101.20" r="2.15"/><circle cx="416.00" cy="91.40" r="2.15"/><circle cx="422.60" cy="81.60" r="2.15"/><circle cx="428.90" cy="72.60" r="2.15"/><circle cx="434.60" cy="64.90" r="2.15"/><circle cx="440.80" cy="57.00" r="2.15"/><circle cx="446.90" cy="49.20" r="2.15"/><circle cx="452.90" cy="41.60" r="2.15"/><circle cx="458.40" cy="35.00" r="2.15"/><circle cx="464.20" cy="28.90" r="2.15"/><circle cx="469.80" cy="23.90" r="2.15"/><circle cx="475.80" cy="19.80" r="2.15"/><circle cx="481.30" cy="16.50" r="2.15"/><circle cx="486.90" cy="14.07" r="2.15"/><circle cx="493.10" cy="12.27" r="2.15"/><circle cx="499.30" cy="10.92" r="2.15"/><circle cx="505.50" cy="9.73" r="2.15"/><circle cx="511.40" cy="8.91" r="2.15"/><circle cx="518.00" cy="8.20" r="2.15"/><circle cx="525.30" cy="7.74" r="2.15"/><circle cx="531.60" cy="7.43" r="2.15"/><circle cx="538.70" cy="7.22" r="2.15"/><circle cx="545.30" cy="7.14" r="2.15"/><circle cx="552.40" cy="7.08" r="2.15"/><circle cx="562.80" cy="7.00" r="2.15"/><circle cx="571.50" cy="6.97" r="2.15"/><circle cx="579.70" cy="6.95" r="2.15"/><circle cx="591.50" cy="6.94" r="2.15"/><circle cx="603.10" cy="6.93" r="2.15"/><circle cx="614.30" cy="6.92" r="2.15"/><circle cx="627.50" cy="6.91" r="2.15"/><circle cx="641.90" cy="6.91" r="2.15"/><circle cx="657.00" cy="6.90" r="2.15"/><circle cx="671.50" cy="6.90" r="2.15"/></g>
<path d="M379.90 124.00 L380.90 123.00 L381.90 122.00 L382.90 121.00 L383.90 120.00 L384.90 118.99 L385.90 118.00 L386.90 117.02 L387.90 116.09 L388.90 115.13 L389.90 114.07 L390.90 112.88 L391.90 111.61 L392.90 110.28 L393.90 108.90 L394.90 107.50 L395.90 106.10 L396.90 104.73 L397.90 103.36 L398.90 101.99 L399.90 100.61 L400.90 99.21 L401.90 97.79 L402.90 96.36 L403.90 94.90 L404.90 93.41 L405.90 91.89 L406.90 90.35 L407.90 88.78 L408.90 87.19 L409.90 85.59 L410.90 83.96 L411.90 82.32 L412.90 80.67 L413.90 78.99 L414.90 77.29 L415.90 75.56 L416.90 73.79 L417.90 72.00 L418.90 70.12 L419.90 68.16 L420.90 66.19 L421.90 64.27 L422.90 62.48 L423.90 60.80 L424.90 59.19 L425.90 57.62 L426.90 56.06 L427.90 54.48 L428.90 52.83 L429.90 51.11 L430.90 49.34 L431.90 47.57 L432.90 45.83 L433.90 44.18 L434.90 42.58 L435.90 41.01 L436.90 39.48 L437.90 37.99 L438.90 36.53 L439.90 35.10 L440.90 33.67 L441.90 32.29 L442.90 30.96 L443.90 29.72 L444.90 28.56 L445.90 27.46 L446.90 26.41 L447.90 25.40 L448.90 24.44 L449.90 23.51 L450.90 22.62 L451.90 21.77 L452.90 20.96 L453.90 20.18 L454.90 19.43 L455.90 18.68 L456.90 17.95 L457.90 17.25 L458.90 16.60 L459.90 16.01 L460.90 15.49 L461.90 15.02 L462.90 14.58 L463.90 14.16 L464.90 13.75 L465.90 13.31 L466.90 12.85 L467.90 12.38 L468.90 11.93 L469.90 11.51 L470.90 11.17 L471.90 10.87 L472.90 10.59 L473.90 10.34 L474.90 10.09 L475.90 9.86 L476.90 9.63 L477.90 9.41 L478.90 9.21 L479.90 9.02 L480.90 8.85 L481.90 8.70 L482.90 8.56 L483.90 8.43 L484.90 8.31 L485.90 8.20 L486.90 8.10 L487.90 8.00 L488.90 7.91 L489.90 7.82 L490.90 7.74 L491.90 7.67 L492.90 7.61 L493.90 7.55 L494.90 7.49 L495.90 7.44 L496.90 7.40 L497.90 7.36 L498.90 7.33 L499.90 7.30 L500.90 7.28 L501.90 7.27 L502.90 7.25 L503.90 7.24 L504.90 7.22 L505.90 7.21 L506.90 7.19 L507.90 7.18 L508.90 7.16 L509.90 7.15 L510.90 7.14 L511.90 7.13 L512.90 7.11 L513.90 7.10 L514.90 7.09 L515.90 7.08 L516.90 7.07 L517.90 7.06 L518.90 7.05 L519.90 7.04 L520.90 7.04 L521.90 7.03 L522.90 7.02 L523.90 7.01 L524.90 7.01 L525.90 7.00 L526.90 6.99 L527.90 6.99 L528.90 6.98 L529.90 6.98 L530.90 6.97 L531.90 6.97 L532.90 6.97 L533.90 6.96 L534.90 6.96 L535.90 6.96 L536.90 6.95 L537.90 6.95 L538.90 6.95 L539.90 6.95 L540.90 6.95 L541.90 6.95 L542.90 6.95 L543.90 6.95 L544.90 6.95 L545.90 6.95 L546.90 6.94 L547.90 6.94 L548.90 6.94 L549.90 6.94 L550.90 6.94 L551.90 6.94 L552.90 6.94 L553.90 6.94 L554.90 6.94 L555.90 6.94 L556.90 6.94 L557.90 6.94 L558.90 6.94 L559.90 6.94 L560.90 6.93 L561.90 6.93 L562.90 6.93 L563.90 6.93 L564.90 6.93 L565.90 6.93 L566.90 6.93 L567.90 6.93 L568.90 6.93 L569.90 6.93 L570.90 6.93 L571.90 6.93 L572.90 6.93 L573.90 6.93 L574.90 6.93 L575.90 6.93 L576.90 6.92 L577.90 6.92 L578.90 6.92 L579.90 6.92 L580.90 6.92 L581.90 6.92 L582.90 6.92 L583.90 6.92 L584.90 6.92 L585.90 6.92 L586.90 6.92 L587.90 6.92 L588.90 6.92 L589.90 6.92 L590.90 6.92 L591.90 6.92 L592.90 6.92 L593.90 6.92 L594.90 6.92 L595.90 6.92 L596.90 6.92 L597.90 6.91 L598.90 6.91 L599.90 6.91 L600.90 6.91 L601.90 6.91 L602.90 6.91 L603.90 6.91 L604.90 6.91 L605.90 6.91 L606.90 6.91 L607.90 6.91 L608.90 6.91 L609.90 6.91 L610.90 6.91 L611.90 6.91 L612.90 6.91 L613.90 6.91 L614.90 6.91 L615.90 6.91 L616.90 6.91 L617.90 6.91 L618.90 6.91 L619.90 6.91 L620.90 6.91 L621.90 6.91 L622.90 6.91 L623.90 6.91 L624.90 6.91 L625.90 6.91 L626.90 6.91 L627.90 6.91 L628.90 6.91 L629.90 6.90 L630.90 6.90 L631.90 6.90 L632.90 6.90 L633.90 6.90 L634.90 6.90 L635.90 6.90 L636.90 6.90 L637.90 6.90 L638.90 6.90 L639.90 6.90 L640.90 6.90 L641.90 6.90 L642.90 6.90 L643.90 6.90 L644.90 6.90 L645.90 6.90 L646.90 6.90 L647.90 6.90 L648.90 6.90 L649.90 6.90 L650.90 6.90 L651.90 6.90 L652.90 6.90 L653.90 6.90 L654.90 6.90 L655.90 6.90 L656.90 6.90 L657.90 6.90 L658.90 6.90 L659.90 6.90 L660.90 6.90 L661.90 6.90 L662.90 6.90 L663.90 6.90 L664.90 6.90 L665.90 6.90 L666.90 6.90 L667.90 6.90 L668.90 6.90 L669.90 6.90 L670.90 6.90 L671.90 6.90 L672.90 6.90 L673.90 6.90 L674.90 6.90 L675.90 6.90 L676.90 6.90 L677.90 6.90 L678.40 6.90" stroke="#000000" stroke-width="1.0" stroke-dasharray="4.5 2.5" fill="none"/>
<path d="M377.95 122.05h3.90v3.90h-3.90ZM381.55 118.45h3.90v3.90h-3.90ZM384.35 115.65h3.90v3.90h-3.90ZM387.65 112.45h3.90v3.90h-3.90ZM394.75 103.05h3.90v3.90h-3.90ZM402.15 92.65h3.90v3.90h-3.90ZM409.05 81.85h3.90v3.90h-3.90ZM415.95 70.05h3.90v3.90h-3.90ZM420.65 61.05h3.90v3.90h-3.90ZM426.85 51.05h3.90v3.90h-3.90ZM431.65 42.71h3.90v3.90h-3.90ZM437.25 34.15h3.90v3.90h-3.90ZM442.05 27.65h3.90v3.90h-3.90ZM447.85 21.65h3.90v3.90h-3.90ZM452.85 17.55h3.90v3.90h-3.90ZM458.15 13.95h3.90v3.90h-3.90ZM463.75 11.45h3.90v3.90h-3.90ZM468.55 9.35h3.90v3.90h-3.90ZM473.35 8.05h3.90v3.90h-3.90ZM479.15 6.87h3.90v3.90h-3.90ZM483.55 6.29h3.90v3.90h-3.90ZM488.25 5.85h3.90v3.90h-3.90ZM492.65 5.56h3.90v3.90h-3.90ZM497.35 5.36h3.90v3.90h-3.90ZM502.85 5.27h3.90v3.90h-3.90ZM508.75 5.19h3.90v3.90h-3.90ZM514.55 5.13h3.90v3.90h-3.90ZM519.05 5.08h3.90v3.90h-3.90ZM524.15 5.05h3.90v3.90h-3.90ZM532.95 5.01h3.90v3.90h-3.90ZM542.25 5.00h3.90v3.90h-3.90ZM549.85 4.99h3.90v3.90h-3.90ZM558.05 4.98h3.90v3.90h-3.90ZM569.55 4.98h3.90v3.90h-3.90ZM580.55 4.97h3.90v3.90h-3.90ZM591.95 4.97h3.90v3.90h-3.90ZM604.45 4.96h3.90v3.90h-3.90ZM618.55 4.96h3.90v3.90h-3.90ZM645.85 4.95h3.90v3.90h-3.90ZM660.35 4.95h3.90v3.90h-3.90ZM669.55 4.95h3.90v3.90h-3.90Z" stroke="#000000" stroke-width="0.8" fill="none"/>
<g font-family="&quot;Liberation Sans&quot;, sans-serif" font-size="10.0" fill="#262626"><text transform="translate(379.90 255.90) scale(0.945 1)" text-anchor="middle">0</text><text transform="translate(439.60 255.90) scale(0.945 1)" text-anchor="middle">1</text><text transform="translate(499.30 255.90) scale(0.945 1)" text-anchor="middle">2</text><text transform="translate(559.00 255.90) scale(0.945 1)" text-anchor="middle">3</text><text transform="translate(618.70 255.90) scale(0.945 1)" text-anchor="middle">4</text><text transform="translate(678.40 255.90) scale(0.945 1)" text-anchor="middle">5</text><text transform="translate(376.00 246.40) scale(0.945 1)" text-anchor="end">0</text><text transform="translate(376.00 199.52) scale(0.945 1)" text-anchor="end">0.2</text><text transform="translate(376.00 152.64) scale(0.945 1)" text-anchor="end">0.4</text><text transform="translate(376.00 105.76) scale(0.945 1)" text-anchor="end">0.6</text><text transform="translate(376.00 58.88) scale(0.945 1)" text-anchor="end">0.8</text><text transform="translate(376.00 12.00) scale(0.945 1)" text-anchor="end">1</text></g>
<rect x="269.60" y="17.90" width="48.80" height="57.60" fill="#fff" stroke="#555" stroke-width="0.9"/>
<path d="M272.10 23.90H292.50" stroke="#ffff00" stroke-width="1.0"/>
<path d="M279.90 22.10L284.70 22.10L282.30 26.42Z" stroke="#ffff00" stroke-width="0.9" fill="none"/>
<text x="294.80" y="26.80" font-family="&quot;Liberation Sans&quot;, sans-serif" font-size="8.4" fill="#262626">&#945;=0.2</text>
<path d="M272.10 35.15H277.90M281.30 35.15H286.60M289.70 35.15H292.50" stroke="#0000ff" stroke-width="1.1"/>
<path d="M280.10 35.15L284.50 35.15M282.30 32.95L282.30 37.35M280.72 33.57L283.88 36.73M280.72 36.73L283.88 33.57" stroke="#0000ff" stroke-width="1.15" fill="none"/>
<text x="294.80" y="38.05" font-family="&quot;Liberation Sans&quot;, sans-serif" font-size="8.4" fill="#262626">&#945;=0.3</text>
<path d="M272.10 46.40H292.50" stroke="#d00000" stroke-width="1" stroke-dasharray="1 1.1"/>
<path d="M280.30 44.40L284.30 48.40M280.30 48.40L284.30 44.40" stroke="#d00000" stroke-width="1.25" fill="none"/>
<text x="294.80" y="49.30" font-family="&quot;Liberation Sans&quot;, sans-serif" font-size="8.4" fill="#262626">&#945;=0.5</text>
<path d="M272.10 57.65H292.50" stroke="#f000f0" stroke-width="1.05"/>
<circle cx="282.30" cy="57.65" r="2.15" stroke="#f000f0" stroke-width="0.95" fill="none"/>
<text x="294.80" y="60.55" font-family="&quot;Liberation Sans&quot;, sans-serif" font-size="8.4" fill="#262626">&#945;=0.8</text>
<path d="M272.10 68.90H277.90M281.30 68.90H286.60M289.70 68.90H292.50" stroke="#000000" stroke-width="1.1"/>
<path d="M280.35 66.95h3.90v3.90h-3.90Z" stroke="#000000" stroke-width="0.8" fill="none"/>
<text x="294.80" y="71.80" font-family="&quot;Liberation Sans&quot;, sans-serif" font-size="8.4" fill="#262626">&#945;=0.9</text>
<rect x="620.20" y="16.30" width="49.30" height="58.00" fill="#fff" stroke="#555" stroke-width="0.9"/>
<path d="M622.70 22.60H643.10" stroke="#ffff00" stroke-width="1.0"/>
<path d="M630.50 20.80L635.30 20.80L632.90 25.12Z" stroke="#ffff00" stroke-width="0.9" fill="none"/>
<text x="645.40" y="25.50" font-family="&quot;Liberation Sans&quot;, sans-serif" font-size="8.4" fill="#262626">&#945;=0.2</text>
<path d="M622.70 34.10H628.50M631.90 34.10H637.20M640.30 34.10H643.10" stroke="#0000ff" stroke-width="1.1"/>
<path d="M630.70 34.10L635.10 34.10M632.90 31.90L632.90 36.30M631.32 32.52L634.48 35.68M631.32 35.68L634.48 32.52" stroke="#0000ff" stroke-width="1.15" fill="none"/>
<text x="645.40" y="37.00" font-family="&quot;Liberation Sans&quot;, sans-serif" font-size="8.4" fill="#262626">&#945;=0.3</text>
<path d="M622.70 45.60H643.10" stroke="#d00000" stroke-width="1" stroke-dasharray="1 1.1"/>
<path d="M630.90 43.60L634.90 47.60M630.90 47.60L634.90 43.60" stroke="#d00000" stroke-width="1.25" fill="none"/>
<text x="645.40" y="48.50" font-family="&quot;Liberation Sans&quot;, sans-serif" font-size="8.4" fill="#262626">&#945;=0.5</text>
<path d="M622.70 57.10H643.10" stroke="#f000f0" stroke-width="1.05"/>
<circle cx="632.90" cy="57.10" r="2.15" stroke="#f000f0" stroke-width="0.95" fill="none"/>
<text x="645.40" y="60.00" font-family="&quot;Liberation Sans&quot;, sans-serif" font-size="8.4" fill="#262626">&#945;=0.8</text>
<path d="M622.70 68.60H628.50M631.90 68.60H637.20M640.30 68.60H643.10" stroke="#000000" stroke-width="1.1"/>
<path d="M630.95 66.65h3.90v3.90h-3.90Z" stroke="#000000" stroke-width="0.8" fill="none"/>
<text x="645.40" y="71.50" font-family="&quot;Liberation Sans&quot;, sans-serif" font-size="8.4" fill="#262626">&#945;=0.9</text>
<g font-family="&quot;Liberation Serif&quot;, serif" font-style="italic" fill="#444">
<text transform="translate(4.0 121.7) scale(1.3 1)" font-size="12.5">x</text>
<text transform="translate(355.3 120.4) scale(1.1 1)" font-size="12.5">y</text>
<text transform="translate(176.6 270.4) scale(1.2 1)" font-size="14">t</text>
<text transform="translate(527.3 269.6) scale(1.2 1)" font-size="14">t</text>
</g>
<g font-family="&quot;Liberation Serif&quot;, serif" font-weight="bold" fill="#000" font-size="13.6">
<text x="179.2" y="285.6" text-anchor="middle">(a)</text>
<text x="529.3" y="285.6" text-anchor="middle">(b)</text>
</g>
</svg></div>
</body></html>
